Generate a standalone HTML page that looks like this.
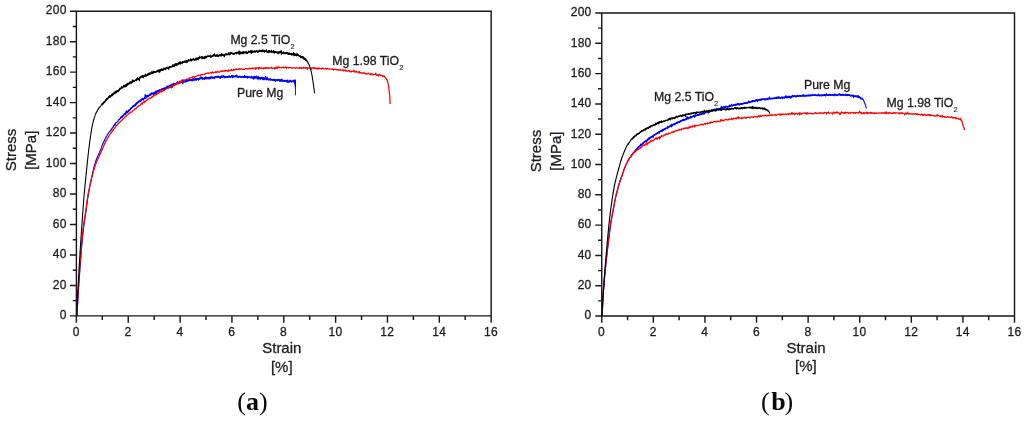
<!DOCTYPE html>
<html lang="en"><head><meta charset="utf-8"><title>Stress-strain curves</title>
<style>html,body{margin:0;padding:0;background:#fff;}body{width:1024px;height:422px;overflow:hidden;}svg{display:block;}text{font-family:"Liberation Sans",Arial,Helvetica,sans-serif;fill:#1c1c22;}text{stroke:#1c1c22;stroke-width:0.3px;stroke-linejoin:round;}.tk{font-size:12px;letter-spacing:0.3px;}.lb{font-size:12.25px;}.ax{font-size:15px;}.sub{font-size:7.4px;stroke-width:0.1px;}.cap{font-family:"Liberation Serif","Times New Roman",Times,serif;font-size:26px;fill:#0a0a0a;stroke:none;}</style></head><body>
<svg width="1024" height="422" viewBox="0 0 1024 422">
<rect width="1024" height="422" fill="#ffffff"/>
<g fill="none" stroke="#0000ff" stroke-width="1.15" stroke-linejoin="miter" stroke-miterlimit="3"><polyline points="77,315.8 77,315.2 77.1,314.7 77.1,314.1 77.1,313.6 77.1,313.0 77.2,312.5 77.2,311.9 77.2,311.4 77.2,310.8 77.3,310.3 77.3,309.7 77.3,309.2 77.4,308.6 77.4,308.1 77.4,307.5 77.4,307.0 77.5,306.4 77.5,305.9 77.5,305.3 77.6,304.8 77.6,304.2 77.6,303.7 77.7,303.1 77.7,302.6 77.7,302.0 77.8,301.5 77.8,300.9 77.8,300.4 77.9,299.8 77.9,299.3 77.9,298.7 78,298.2 78,297.6 78,297.1 78.1,296.5 78.1,296.0 78.1,295.4 78.2,294.9 78.2,294.3 78.2,293.8 78.3,293.2 78.3,292.7 78.3,292.1 78.4,291.6 78.4,291.0 78.4,290.5 78.5,289.9 78.5,289.4 78.5,288.8 78.6,288.3 78.6,287.7 78.6,287.2 78.7,286.6 78.7,286.1 78.8,285.5 78.8,285.0 78.8,284.4 78.9,283.9 78.9,283.3 78.9,282.8 79,282.2 79,281.7 79.1,281.1 79.1,280.6 79.1,280.0 79.2,279.5 79.2,279.0 79.3,278.4 79.3,277.9 79.3,277.3 79.4,276.8 79.4,276.2 79.4,275.7 79.5,275.1 79.5,274.6 79.6,274.0 79.6,273.5 79.6,272.9 79.7,272.4 79.7,271.8 79.8,271.3 79.8,270.7 79.8,270.2 79.9,269.6 79.9,269.1 80,268.5 80,268.0 80.1,267.4 80.1,266.9 80.1,266.3 80.2,265.8 80.2,265.2 80.3,264.7 80.3,264.1 80.3,263.6 80.4,263.0 80.4,262.5 80.5,261.9 80.5,261.4 80.6,260.8 80.6,260.3 80.6,259.7 80.7,259.2 80.7,258.6 80.8,258.1 80.8,257.5 80.9,257.0 80.9,256.4 80.9,255.9 81,255.3 81,254.8 81.1,254.2 81.1,253.7 81.2,253.1 81.2,252.6 81.2,252.0 81.3,251.5 81.3,250.9 81.4,250.4 81.4,249.8 81.5,249.3 81.5,248.7 81.5,248.2 81.6,247.6 81.6,247.1 81.7,246.5 81.7,246.0 81.8,245.4 81.8,244.9 81.9,244.3 81.9,243.8 82,243.3 82,242.7 82.1,242.2 82.1,241.6 82.2,241.1 82.2,240.5 82.3,240.0 82.3,239.4 82.4,238.9 82.4,238.3 82.5,237.8 82.5,237.2 82.6,236.7 82.6,236.1 82.7,235.6 82.8,235.0 82.8,234.5 82.9,233.9 82.9,233.4 83,232.8 83.1,232.3 83.1,231.7 83.2,231.2 83.2,230.6 83.3,230.1 83.4,229.5 83.4,229.0 83.5,228.5 83.6,227.9 83.6,227.4 83.7,226.8 83.8,226.3 83.8,225.7 83.9,225.2 84,224.6 84,224.1 84.1,223.5 84.2,223.0 84.3,222.4 84.4,221.9 84.4,221.4 84.5,220.8 84.6,220.3 84.7,219.7 84.8,219.2 84.9,218.6 84.9,218.1 85,217.5 85.1,217.0 85.2,216.5 85.3,215.9 85.4,215.4 85.5,214.8 85.5,214.3 85.6,213.7 85.7,213.2 85.8,212.6 85.9,212.1 85.9,211.6 86,211.0 86.1,210.5 86.2,209.9 86.2,209.4 86.3,208.8 86.4,208.3 86.5,207.7 86.5,207.2 86.6,206.6 86.7,206.1 86.7,205.5 86.8,205.0 86.9,204.5 87,203.9 87,203.4 87.1,202.8 87.2,202.3 87.3,201.7 87.3,201.2 87.4,200.6 87.5,200.1 87.6,199.5 87.6,199.0 87.7,198.5 87.8,197.9 87.9,197.4 88,196.8 88.1,196.3 88.1,195.7 88.2,195.2 88.3,194.6 88.4,194.1 88.5,193.6 88.6,193.0 88.7,192.5 88.8,191.9 88.9,191.4 89,190.8 89.1,190.3 89.2,189.8 89.3,189.2 89.4,188.7 89.5,188.1 89.6,187.6 89.7,187.1 89.8,186.5 89.9,186.0 90,185.4 90.2,184.9 90.3,184.4 90.4,183.8 90.5,183.3 90.6,182.7 90.7,182.2 90.8,181.7 90.9,181.1 91,180.6 91.2,180.0 91.3,179.5 91.4,179.0 91.5,178.4 91.6,177.9 91.7,177.3 91.8,176.8 91.9,176.3 92.1,175.7 92.2,175.2 92.3,174.7 92.4,174.1 92.5,173.6 92.6,173.0 92.8,172.5 92.9,172.0 93,171.4 93.1,170.9 93.2,170.3 93.3,169.8 93.5,169.3 93.6,168.7 93.7,168.2 93.8,167.7 94,167.1 94.1,166.6 94.2,166.0 94.4,165.5 94.6,165.0 94.7,164.5 94.9,164.0 95.1,163.4 95.2,163.0 95.4,162.3 95.6,161.7 95.8,161.4 96,160.8 96.2,160.3 96.3,159.8 96.5,159.1 96.7,158.6 96.9,158.4 97.1,157.8 97.3,157.1 97.5,156.9 97.8,156.1 98,155.7 98.2,155.2 98.4,154.5 98.6,154.1 98.9,153.9 99.1,153.1 99.3,152.8 99.6,152.3 99.8,151.5 100,151.1 100.2,150.8 100.4,150.1 100.6,149.6 100.9,149.2 101.1,148.7 101.3,148.0 101.5,147.7 101.6,146.9 101.8,146.4 102,146.1 102.2,145.4 102.4,144.9 102.6,144.5 102.8,143.8 103.1,143.5 103.3,142.8 103.5,142.4 103.7,142.4 104,141.5 104.2,140.7 104.4,140.6 104.6,140.1 104.9,139.7 105.1,139.0 105.4,138.4 105.6,138.2 105.9,137.6 106.1,136.7 106.4,136.7 106.7,136.0 106.9,135.8 107.2,135.0 107.5,134.8 107.8,134.2 108,133.8 108.3,133.2 108.7,132.7 109,132.3 109.3,132.0 109.6,131.5 109.9,131.4 110.3,130.7 110.6,130.3 111,130.3 111.3,129.2 111.6,128.9 112,128.2 112.3,127.9 112.6,127.9 113,127.1 113.3,127.0 113.6,125.8 114,125.3 114.3,125.4 114.7,124.5 115,125.2 115.4,124.4 115.7,123.2 116.1,122.5 116.4,122.5 116.8,122.4 117.1,121.9 117.5,121.8 117.8,121.5 118.2,120.5 118.5,119.8 118.9,119.9 119.3,119.3 119.6,119.3 120,118.5 120.4,118.4 120.7,117.8 121.1,117.2 121.5,116.8 121.9,116.8 122.3,117.1 122.7,116.1 123.1,115.4 123.5,115.3 123.9,114.7 124.3,113.8 124.8,114.1 125.2,114.3 125.6,113.1 126,112.4 126.4,111.2 126.9,112.9 127.3,112.2 127.7,111.9 128.1,112.0 128.5,111.4 128.9,110.6 129.3,109.9 129.7,109.7 130.2,109.2 130.6,109.2 131,108.2 131.4,108.3 131.8,107.8 132.2,107.3 132.6,107.4 133,105.9 133.4,106.0 133.8,105.7 134.3,105.9 134.7,105.0 135.1,105.4 135.5,104.3 135.9,104.3 136.3,103.5 136.8,103.9 137.2,102.6 137.6,102.9 138,102.1 138.5,101.5 138.9,101.6 139.3,101.8 139.8,100.5 140.2,100.0 140.6,100.2 141.1,100.4 141.5,99.2 142,99.1 142.4,99.2 142.9,98.6 143.4,99.8 143.8,98.8 144.3,97.9 144.8,97.6 145.2,94.3 145.7,97.0 146.2,96.3 146.7,95.9 147.2,95.6 147.6,97.0 148.1,95.7 148.6,95.8 149.1,95.6 149.6,94.4 150.1,95.1 150.6,94.2 151.1,93.1 151.6,93.9 152.1,93.2 152.6,93.3 153.1,93.5 153.6,94.3 154.1,92.6 154.6,92.5 155.1,92.6 155.6,92.3 156.1,91.9 156.6,91.1 157.1,91.0 157.6,91.2 158.1,90.5 158.6,90.5 159.2,90.0 159.7,91.1 160.2,89.4 160.7,91.1 161.2,89.5 161.7,89.0 162.2,88.7 162.7,89.6 163.2,89.5 163.7,88.2 164.2,88.7 164.7,88.2 165.2,87.9 165.8,88.0 166.3,88.1 166.8,86.4 167.3,86.1 167.8,87.2 168.3,86.8 168.8,87.1 169.4,85.6 169.9,85.8 170.4,86.9 170.9,85.2 171.4,85.9 171.9,85.0 172.4,85.0 172.9,84.2 173.4,85.4 173.9,83.5 174.4,83.6 174.9,83.6 175.4,84.5 175.9,83.9 176.5,83.9 177,83.3 177.5,83.3 178,83.3 178.6,83.7 179.1,82.8 179.6,81.7 180.1,83.0 180.7,82.3 181.2,81.5 181.7,81.8 182.3,83.2 182.8,83.6 183.4,81.4 183.9,80.4 184.4,81.5 185,80.8 185.5,81.8 186.1,81.1 186.6,80.0 187.1,80.6 187.7,80.1 188.2,79.6 188.8,80.2 189.3,79.3 189.8,80.4 190.4,79.7 190.9,79.6 191.5,80.4 192,80.9 192.6,79.5 193.1,80.7 193.6,78.5 194.2,79.8 194.7,79.1 195.3,79.3 195.8,78.7 196.3,78.8 196.9,78.8 197.4,79.1 198,79.6 198.5,80.0 199.1,78.3 199.6,78.5 200.2,77.6 200.7,77.1 201.3,79.2 201.8,77.6 202.4,79.1 202.9,78.3 203.5,78.7 204,78.4 204.6,79.2 205.1,78.0 205.7,77.1 206.2,78.7 206.8,78.1 207.3,77.6 207.9,77.9 208.4,77.6 209,78.9 209.5,77.6 210.1,77.1 210.6,78.0 211.2,76.8 211.7,78.0 212.3,78.0 212.8,77.2 213.3,77.3 213.9,77.2 214.4,78.4 215,77.7 215.5,76.7 216.1,76.6 216.6,77.2 217.2,77.2 217.7,76.8 218.3,77.3 218.8,77.0 219.4,77.7 219.9,77.3 220.5,76.6 221,77.1 221.6,76.5 222.1,77.4 222.7,77.1 223.2,76.7 223.8,76.9 224.3,76.6 224.9,78.2 225.4,76.6 226,77.1 226.5,77.0 227.1,76.6 227.6,76.7 228.2,76.5 228.7,76.8 229.3,76.8 229.8,77.1 230.4,77.1 230.9,76.5 231.5,76.4 232,75.5 232.6,76.2 233.1,75.7 233.7,77.0 234.2,76.7 234.8,76.6 235.4,75.8 235.9,75.9 236.5,75.3 237,76.7 237.6,77.1 238.1,77.1 238.7,76.7 239.2,76.2 239.8,76.8 240.3,76.8 240.9,77.2 241.4,77.2 242,76.7 242.5,76.8 243.1,77.2 243.6,77.1 244.2,76.8 244.7,75.7 245.3,76.6 245.8,77.4 246.4,77.1 246.9,77.5 247.5,76.8 248,77.1 248.6,77.5 249.1,77.5 249.7,77.4 250.2,77.8 250.8,77.9 251.3,78.0 251.9,76.4 252.4,77.1 253,77.2 253.5,77.2 254.1,76.6 254.6,78.2 255.2,77.0 255.7,77.7 256.3,76.4 256.8,77.5 257.4,77.7 257.9,77.3 258.4,78.3 259,79.3 259.5,77.5 260.1,77.6 260.6,79.1 261.2,78.5 261.7,78.1 262.3,77.6 262.8,80.1 263.4,78.6 263.9,79.4 264.5,78.1 265,78.5 265.6,76.2 266.1,78.7 266.7,79.5 267.2,77.6 267.7,78.7 268.3,79.1 268.8,79.1 269.4,79.7 269.9,79.2 270.5,78.8 271,79.3 271.6,79.5 272.1,80.1 272.7,80.3 273.2,80.4 273.8,80.0 274.3,79.5 274.9,80.7 275.4,79.8 276,79.6 276.5,80.2 277.1,80.3 277.6,80.6 278.1,79.7 278.7,79.8 279.2,80.6 279.8,79.8 280.3,80.9 280.9,79.8 281.4,80.1 282,79.5 282.5,81.7 283.1,80.4 283.6,80.6 284.2,80.4 284.7,80.7 285.3,81.3 285.8,81.0 286.4,81.1 286.9,81.8 287.5,80.5 288,81.9 288.5,82.2 289.1,80.6 289.6,81.6 290.2,80.7 290.7,80.3 291.3,81.0 291.8,81.8 292.4,81.9"/><polyline stroke-width="1.50" points="120.1,118.1 120.6,117.8 121.1,117.3 121.7,116.5 122.3,116.5 122.9,115.8 123.5,115.3 124.1,114.6 124.7,114.5 125.3,113.5 125.9,112.9 126.5,111.5 127.1,112.2 127.7,111.3 128.3,110.9 128.9,110.4 129.5,109.7 130.1,109.7 130.7,108.6 131.3,107.8 131.9,107.6 132.5,106.8 133.1,106.5 133.7,106.1 134.3,105.4 134.9,105.3 135.5,105.3 136.1,103.5 136.8,103.3 137.4,103.1 138,102.3 138.6,102.0 139.2,100.9 139.9,100.9 140.5,101.3 141.2,99.8 141.8,99.4 142.5,99.4 143.2,99.0 143.8,98.9 144.5,98.4 145.2,97.5 145.9,97.9 146.6,95.8 147.3,96.2 148,96.4 148.7,95.5 149.5,95.2 150.2,95.1 150.9,94.5 151.6,94.1 152.4,93.8 153.1,93.1 153.8,92.8 154.5,93.3 155.3,91.9 156,93.9 156.8,91.6 157.5,91.7 158.2,91.1 159,91.1 159.7,90.3 160.5,90.3 161.2,89.4 161.9,89.2 162.7,89.5 163.4,89.3 164.1,89.5 164.9,88.1 165.6,88.2 166.4,87.6 167.1,87.2 167.9,86.5 168.6,86.6 169.4,86.2 170.1,86.4 170.9,85.3 171.6,86.9 172.3,84.5 173.1,84.8 173.8,84.3 174.5,84.0 175.3,84.2 176,83.8 176.8,83.1 177.5,82.2 178.3,82.9 179.1,82.2 179.9,82.1 180.6,82.1 181.4,82.0 182.2,80.2 183,81.3 183.8,82.0 184.5,81.1 185.3,81.5 186.1,81.7 186.9,80.6 187.7,81.1 188.5,80.2 189.3,80.5 190.1,80.3 190.9,80.1 191.6,79.8 192.4,79.8 193.2,79.4 194,79.2 194.8,80.1 195.6,79.0 196.4,79.8 197.2,78.7 198,78.6 198.8,79.2 199.6,79.0 200.4,78.0 201.2,78.2 202,77.9 202.8,78.7 203.6,78.2 204.4,78.4 205.2,77.6 206,78.6 206.8,77.6 207.6,78.5 208.4,77.8 209.2,78.3 210,78.5 210.8,77.7 211.6,77.6 212.4,77.4 213.2,78.1 214,77.9 214.8,77.2 215.6,76.6 216.4,76.5 217.2,77.0 218,76.6 218.8,76.8 219.6,77.4 220.4,78.0 221.2,76.7 222,76.0 222.8,76.9 223.6,76.0 224.4,76.4 225.2,76.7 226,76.8 226.8,76.9 227.6,77.2 228.4,76.9 229.2,76.1 230,76.8 230.8,76.7 231.6,76.2 232.4,77.3 233.2,76.5 234,76.3 234.8,76.4 235.6,76.6 236.4,76.7 237.2,76.2 238,76.8 238.8,76.9 239.6,76.6 240.4,76.8 241.2,77.1 242.1,77.0 242.9,76.4 243.7,76.8 244.5,77.2 245.3,77.3 246.1,76.7 246.9,76.5 247.7,77.8 248.5,76.8 249.3,77.1 250.1,77.0 250.9,77.2 251.7,77.2 252.5,77.5 253.3,78.5 254.1,76.8 254.9,76.9 255.7,77.7 256.5,77.8 257.3,78.6 258.1,76.9 258.9,78.2 259.7,78.2 260.5,78.3 261.3,77.6 262.1,78.5 262.9,78.9 263.7,78.0 264.5,79.3 265.3,78.5 266.1,78.7 266.8,79.1 267.6,79.1 268.4,79.9 269.2,79.4 270,79.9 270.8,80.0 271.6,79.6 272.4,80.0 273.2,79.6 274,80.1 274.8,80.4 275.6,81.0 276.4,80.1 277.2,80.2 278,79.7 278.8,79.9 279.6,80.8 280.4,80.9 281.2,79.9 282,81.0 282.8,80.6 283.6,80.9 284.4,81.2 285.2,80.9 286,80.5 286.8,81.2 287.6,81.7 288.4,81.5 289.2,81.4 290,81.3 290.8,81.1 291.6,81.8 292.4,81.4"/></g>
<path d="M295.45 80V95.3" fill="none" stroke="#0000ff" stroke-width="0.95"/>
<path d="M291.8 81.3L293.0 79.7L295.95 79.5L295.95 87.8L295.0 87.8L294.3 83.8L293.2 81.9Z" fill="#0000ff"/>
<g fill="none" stroke="#ff0000" stroke-width="1.25" stroke-linejoin="miter" stroke-miterlimit="3"><polyline points="76.9,315.8 76.9,315.2 76.9,314.7 77,314.1 77,313.6 77,313.0 77,312.5 77.1,311.9 77.1,311.4 77.1,310.8 77.1,310.3 77.2,309.7 77.2,309.2 77.2,308.6 77.3,308.1 77.3,307.5 77.3,307.0 77.3,306.4 77.4,305.9 77.4,305.3 77.4,304.8 77.4,304.2 77.5,303.7 77.5,303.1 77.5,302.6 77.6,302.0 77.6,301.5 77.6,300.9 77.6,300.4 77.7,299.8 77.7,299.3 77.7,298.7 77.8,298.2 77.8,297.6 77.8,297.1 77.9,296.5 77.9,296.0 77.9,295.4 78,294.9 78,294.3 78,293.8 78.1,293.2 78.1,292.7 78.1,292.1 78.2,291.6 78.2,291.0 78.2,290.5 78.3,289.9 78.3,289.4 78.3,288.8 78.4,288.3 78.4,287.7 78.4,287.2 78.5,286.6 78.5,286.1 78.5,285.5 78.6,285.0 78.6,284.4 78.6,283.9 78.7,283.3 78.7,282.8 78.8,282.2 78.8,281.7 78.8,281.2 78.9,280.6 78.9,280.1 78.9,279.5 79,279.0 79,278.4 79,277.9 79.1,277.3 79.1,276.8 79.2,276.2 79.2,275.7 79.2,275.1 79.3,274.6 79.3,274.0 79.4,273.5 79.4,272.9 79.4,272.4 79.5,271.8 79.5,271.3 79.5,270.7 79.6,270.2 79.6,269.6 79.7,269.1 79.7,268.5 79.7,268.0 79.8,267.4 79.8,266.9 79.9,266.3 79.9,265.8 79.9,265.2 80,264.7 80,264.1 80.1,263.6 80.1,263.0 80.1,262.5 80.2,261.9 80.2,261.4 80.3,260.8 80.3,260.3 80.4,259.7 80.4,259.2 80.4,258.6 80.5,258.1 80.5,257.5 80.6,257.0 80.6,256.4 80.6,255.9 80.7,255.3 80.7,254.8 80.8,254.2 80.8,253.7 80.9,253.1 80.9,252.6 80.9,252.0 81,251.5 81,250.9 81.1,250.4 81.1,249.8 81.2,249.3 81.2,248.7 81.2,248.2 81.3,247.7 81.3,247.1 81.4,246.6 81.4,246.0 81.5,245.5 81.5,244.9 81.6,244.4 81.6,243.8 81.7,243.3 81.7,242.7 81.8,242.2 81.8,241.6 81.9,241.1 81.9,240.5 82,240.0 82,239.4 82.1,238.9 82.1,238.3 82.2,237.8 82.2,237.2 82.3,236.7 82.3,236.1 82.4,235.6 82.5,235.0 82.5,234.5 82.6,233.9 82.6,233.4 82.7,232.8 82.8,232.3 82.8,231.8 82.9,231.2 82.9,230.7 83,230.1 83.1,229.6 83.1,229.0 83.2,228.5 83.3,227.9 83.3,227.4 83.4,226.8 83.5,226.3 83.5,225.7 83.6,225.2 83.7,224.6 83.7,224.1 83.8,223.6 83.9,223.0 84,222.5 84,221.9 84.1,221.4 84.2,220.8 84.3,220.3 84.4,219.7 84.5,219.2 84.5,218.7 84.6,218.1 84.7,217.6 84.8,217.0 84.9,216.5 85,215.9 85.1,215.4 85.2,214.8 85.2,214.3 85.3,213.8 85.4,213.2 85.5,212.7 85.6,212.1 85.6,211.6 85.7,211.0 85.8,210.5 85.9,209.9 85.9,209.4 86,208.8 86.1,208.3 86.2,207.8 86.2,207.2 86.3,206.7 86.4,206.1 86.4,205.6 86.5,205.0 86.6,204.5 86.7,203.9 86.7,203.4 86.8,202.8 86.9,202.3 86.9,201.7 87,201.2 87.1,200.7 87.2,200.1 87.3,199.6 87.3,199.0 87.4,198.5 87.5,197.9 87.6,197.4 87.7,196.8 87.8,196.3 87.9,195.8 87.9,195.2 88,194.7 88.1,194.1 88.2,193.6 88.3,193.0 88.4,192.5 88.5,192.0 88.6,191.4 88.7,190.9 88.8,190.3 88.9,189.8 89,189.3 89.2,188.7 89.3,188.2 89.4,187.6 89.5,187.1 89.6,186.6 89.8,186.0 89.9,185.5 90,185.0 90.1,184.4 90.2,183.9 90.4,183.3 90.5,182.8 90.6,182.3 90.7,181.7 90.9,181.2 91,180.7 91.1,180.1 91.2,179.6 91.4,179.1 91.5,178.5 91.6,178.0 91.8,177.4 91.9,176.9 92,176.4 92.2,175.8 92.3,175.3 92.5,174.8 92.6,174.3 92.7,173.7 92.9,173.2 93,172.7 93.2,172.1 93.3,171.6 93.5,171.1 93.6,170.5 93.8,170.0 94,169.5 94.1,168.9 94.3,168.5 94.5,167.9 94.6,167.4 94.8,166.9 95,166.4 95.1,165.8 95.3,165.3 95.5,164.7 95.7,164.3 95.9,163.7 96.1,163.2 96.3,162.7 96.5,162.2 96.7,161.6 96.9,161.3 97.1,160.8 97.3,160.2 97.6,159.7 97.8,159.2 98,158.8 98.2,158.1 98.5,157.6 98.7,157.1 98.9,156.6 99.1,156.1 99.4,155.5 99.6,155.2 99.8,154.6 100.1,154.3 100.3,153.7 100.5,153.1 100.8,152.6 101,152.1 101.2,151.8 101.5,151.1 101.7,150.5 101.9,150.2 102.2,149.7 102.4,149.1 102.6,148.8 102.8,148.2 103,147.7 103.2,147.0 103.5,146.6 103.7,146.1 103.9,145.4 104.1,145.1 104.3,144.5 104.5,144.1 104.8,143.5 105,143.3 105.3,142.6 105.5,142.2 105.7,141.7 106,141.0 106.3,140.4 106.5,140.1 106.8,139.8 107,139.2 107.3,138.8 107.6,138.3 107.9,137.6 108.1,137.3 108.4,137.0 108.7,136.3 109,135.6 109.3,135.4 109.6,134.9 109.9,134.5 110.2,133.9 110.6,133.6 110.9,132.8 111.2,132.8 111.5,132.5 111.8,132.0 112.2,131.1 112.5,131.0 112.8,130.0 113.2,130.1 113.5,129.6 113.8,129.0 114.2,128.8 114.5,128.3 114.8,128.0 115.2,127.4 115.5,127.0 115.8,126.2 116.2,125.9 116.5,125.6 116.9,125.3 117.2,124.8 117.6,124.7 117.9,123.8 118.3,123.5 118.7,123.2 119.1,122.7 119.5,122.5 119.8,121.9 120.2,121.9 120.6,121.2 121,121.1 121.4,120.5 121.8,120.4 122.2,119.4 122.6,119.4 123,118.9 123.4,118.6 123.9,118.5 124.3,117.6 124.7,117.2 125.1,116.9 125.5,116.5 125.9,115.9 126.3,116.0 126.7,115.3 127.1,115.0 127.6,114.8 128,114.7 128.4,114.1 128.8,113.8 129.3,113.5 129.7,113.1 130.1,112.2 130.6,112.4 131,112.2 131.4,112.1 131.9,112.0 132.3,111.3 132.7,110.8 133.2,110.2 133.6,110.1 134,110.0 134.5,109.7 134.9,108.9 135.3,108.8 135.8,108.6 136.2,108.5 136.6,107.8 137,107.2 137.5,106.9 137.9,106.6 138.3,105.9 138.8,106.2 139.2,105.9 139.6,105.5 140.1,105.3 140.5,104.5 140.9,104.4 141.4,103.2 141.8,103.7 142.3,104.0 142.7,103.0 143.2,102.2 143.6,102.3 144,101.8 144.5,101.4 144.9,102.3 145.4,101.3 145.8,101.2 146.3,100.3 146.8,100.4 147.2,100.1 147.7,99.2 148.1,99.2 148.6,98.9 149.1,98.7 149.5,97.9 150,98.0 150.5,98.1 150.9,97.9 151.4,97.7 151.9,96.8 152.4,97.2 152.8,96.6 153.3,95.7 153.8,96.0 154.3,95.3 154.7,94.6 155.2,94.9 155.7,95.0 156.2,94.5 156.6,94.0 157.1,94.1 157.6,93.6 158.1,93.2 158.5,93.4 159,92.6 159.5,92.3 160,92.1 160.5,90.5 161,91.6 161.5,92.0 161.9,90.9 162.4,91.0 162.9,90.4 163.4,90.3 163.9,90.7 164.4,90.3 164.9,89.6 165.4,89.5 165.9,89.0 166.4,88.8 166.9,88.5 167.4,88.3 167.9,88.4 168.4,88.2 168.9,87.9 169.4,87.5 169.9,86.9 170.3,87.1 170.8,86.6 171.3,86.6 171.8,86.5 172.3,87.9 172.8,85.7 173.3,85.1 173.8,85.6 174.3,84.6 174.8,85.3 175.3,84.7 175.8,84.7 176.3,83.8 176.7,84.4 177.2,83.5 177.7,83.0 178.2,83.5 178.7,82.9 179.2,82.4 179.7,82.6 180.2,81.5 180.7,82.4 181.2,81.4 181.7,81.5 182.2,81.1 182.7,81.1 183.2,81.0 183.7,80.3 184.2,80.6 184.7,80.1 185.2,79.7 185.8,79.7 186.3,79.3 186.8,79.1 187.3,79.5 187.8,78.9 188.3,79.1 188.9,78.7 189.4,78.1 189.9,77.7 190.4,77.8 190.9,77.9 191.4,77.7 192,77.2 192.5,77.6 193,76.6 193.5,76.6 194.1,76.8 194.6,77.3 195.1,76.6 195.6,76.3 196.1,76.3 196.7,76.1 197.2,76.0 197.7,75.5 198.3,75.2 198.8,75.3 199.3,75.3 199.9,75.5 200.4,75.5 200.9,74.6 201.5,74.5 202,74.6 202.5,74.4 203.1,74.5 203.6,74.4 204.2,74.2 204.7,74.5 205.3,73.9 205.8,73.5 206.3,73.3 206.9,73.3 207.4,73.2 208,72.9 208.5,73.5 209,73.3 209.6,73.0 210.1,72.8 210.7,72.5 211.2,72.6 211.8,73.3 212.3,72.0 212.8,72.6 213.4,72.7 213.9,72.5 214.5,72.2 215,72.5 215.6,71.8 216.1,72.3 216.7,72.4 217.2,71.6 217.7,71.6 218.3,71.8 218.8,72.0 219.4,72.0 219.9,71.7 220.5,71.2 221,71.0 221.6,71.3 222.1,71.3 222.6,70.8 223.2,71.0 223.7,71.0 224.3,71.2 224.8,70.5 225.4,70.9 225.9,70.3 226.5,70.5 227,70.5 227.6,71.0 228.1,71.4 228.7,70.1 229.2,70.5 229.8,70.5 230.3,70.2 230.8,70.3 231.4,69.6 231.9,70.4 232.5,70.3 233,70.2 233.6,69.4 234.1,70.1 234.7,69.6 235.2,69.5 235.8,69.6 236.3,68.9 236.9,69.5 237.4,69.6 238,69.4 238.5,69.3 239.1,68.9 239.6,69.4 240.2,69.2 240.7,69.1 241.3,68.6 241.8,69.3 242.4,69.4 242.9,69.1 243.5,69.2 244,69.3 244.5,69.4 245.1,68.9 245.6,68.7 246.2,68.6 246.7,68.7 247.3,68.9 247.8,69.0 248.4,68.5 248.9,68.6 249.5,68.3 250,68.9 250.6,68.4 251.1,68.6 251.7,68.2 252.2,68.3 252.8,68.1 253.3,68.8 253.9,68.4 254.4,68.2 255,67.9 255.5,69.0 256.1,68.3 256.6,68.6 257.2,67.7 257.7,67.8 258.3,68.0 258.8,68.9 259.4,67.6 259.9,68.0 260.5,68.3 261,67.7 261.6,68.1 262.1,68.3 262.7,68.3 263.2,67.9 263.8,68.7 264.4,68.1 264.9,67.7 265.5,68.3 266,67.6 266.6,68.2 267.1,67.6 267.7,68.2 268.2,67.8 268.8,68.3 269.3,68.1 269.9,68.0 270.4,67.9 271,68.2 271.5,67.3 272.1,68.0 272.6,68.0 273.2,68.0 273.7,68.1 274.3,68.9 274.8,67.8 275.4,68.0 275.9,67.8 276.5,68.2 277,67.1 277.6,68.2 278.1,67.5 278.7,66.7 279.2,67.3 279.8,67.6 280.3,67.7 280.9,67.6 281.4,67.9 282,67.6 282.5,67.6 283.1,67.0 283.6,67.7 284.2,67.9 284.7,67.5 285.3,67.0 285.8,67.2 286.4,68.1 286.9,67.4 287.5,67.4 288,67.4 288.6,67.9 289.1,67.5 289.7,67.4 290.2,67.3 290.8,67.7 291.3,68.0 291.9,67.7 292.4,68.0 293,67.8 293.5,67.9 294.1,67.9 294.6,67.9 295.2,68.2 295.7,68.0 296.3,67.7 296.8,67.9 297.4,67.9 297.9,68.1 298.5,68.0 299,68.1 299.6,67.5 300.1,68.1 300.7,68.3 301.2,67.6 301.8,68.4 302.3,68.1 302.9,67.9 303.4,67.4 304,68.3 304.5,67.7 305.1,67.9 305.6,68.2 306.2,67.7 306.8,67.7 307.3,69.1 307.9,68.0 308.4,68.2 309,68.2 309.5,68.2 310.1,68.0 310.6,68.1 311.2,67.9 311.7,69.0 312.3,68.2 312.8,67.6 313.4,67.9 313.9,68.7 314.5,67.8 315,68.1 315.6,68.4 316.1,68.0 316.7,68.7 317.2,68.9 317.8,68.1 318.3,68.8 318.9,68.2 319.4,68.2 320,68.6 320.5,68.6 321.1,68.4 321.6,68.8 322.2,68.2 322.7,68.4 323.3,68.3 323.8,68.9 324.4,68.9 324.9,68.9 325.5,68.4 326,68.8 326.6,69.0 327.1,68.4 327.7,68.6 328.2,69.1 328.8,69.1 329.3,69.0 329.9,69.2 330.4,69.1 331,69.1 331.5,69.1 332.1,68.9 332.6,69.1 333.2,69.1 333.7,70.0 334.3,69.4 334.8,69.4 335.3,69.4 335.9,69.5 336.4,69.5 337,69.8 337.5,69.7 338.1,70.0 338.6,69.6 339.2,70.0 339.7,70.2 340.3,69.7 340.8,70.1 341.4,70.2 341.9,70.1 342.5,70.2 343,69.8 343.5,70.8 344.1,70.2 344.6,70.2 345.2,70.8 345.7,70.2 346.3,71.1 346.8,71.0 347.4,71.1 347.9,70.9 348.5,70.7 349,70.5 349.6,71.6 350.1,71.1 350.7,71.2 351.2,71.9 351.7,71.3 352.3,71.4 352.8,71.5 353.4,71.6 353.9,70.5 354.5,71.6 355,72.2 355.6,72.2 356.1,71.1 356.7,71.5 357.2,72.2 357.8,72.2 358.3,72.0 358.9,72.7 359.4,71.9 359.9,72.9 360.5,72.6 361,72.8 361.6,72.8 362.1,73.1 362.7,72.9 363.2,72.9 363.8,73.3 364.3,73.2 364.8,72.9 365.4,73.8 365.9,73.8 366.5,74.0 367,73.6 367.6,73.8 368.1,73.7 368.7,73.2 369.2,74.0 369.7,74.1 370.3,73.9 370.8,74.7 371.4,73.7 371.9,74.0 372.5,74.1 373,74.8 373.6,74.4 374.1,74.4 374.7,74.3 375.2,74.4 375.8,73.5 376.3,75.0 376.9,74.9 377.4,75.1 378,74.7 378.5,75.7 379.1,74.7 379.6,74.5 380.1,75.1 380.7,75.3 381.2,75.7 381.8,75.3 382.3,75.9 382.8,76.5 383.3,75.9 383.8,76.2 384.3,76.2 384.7,77.0 385.2,77.5 385.6,77.9 386,78.3 386.3,78.8 386.6,79.0 386.8,79.6 387.1,79.9 387.3,80.4 387.5,81.0 387.6,81.5 387.8,82.1 387.9,82.6 388,83.2 388.1,83.7 388.2,84.3 388.3,84.8 388.4,85.3 388.5,85.9 388.6,86.4 388.7,87.0 388.7,87.5 388.8,88.1 388.9,88.6 388.9,89.2 389,89.7 389.1,90.3 389.1,90.8 389.2,91.4 389.3,91.9 389.3,92.5 389.4,93.0 389.5,93.6 389.5,94.1 389.6,94.7 389.7,95.2 389.7,95.8 389.8,96.3 389.8,96.8 389.8,97.4 389.9,97.9 389.9,98.5 389.9,99.0 390,99.6 390,100.1 390,100.7 390,101.2 390.1,101.8 390.1,102.3 390.1,102.9 390.1,103.4 390.1,104.0"/></g>
<g fill="none" stroke="#000000" stroke-width="1.10" stroke-linejoin="miter" stroke-miterlimit="3"><polyline points="76.7,315.8 76.7,315.2 76.7,314.7 76.8,314.1 76.8,313.6 76.8,313.0 76.8,312.5 76.9,311.9 76.9,311.4 76.9,310.8 76.9,310.3 77,309.7 77,309.2 77,308.6 77,308.1 77.1,307.5 77.1,307.0 77.1,306.4 77.1,305.9 77.2,305.3 77.2,304.8 77.2,304.2 77.2,303.7 77.3,303.1 77.3,302.6 77.3,302.0 77.3,301.5 77.4,300.9 77.4,300.4 77.4,299.8 77.5,299.3 77.5,298.7 77.5,298.2 77.5,297.6 77.6,297.1 77.6,296.5 77.6,296.0 77.6,295.4 77.7,294.9 77.7,294.3 77.7,293.8 77.8,293.2 77.8,292.7 77.8,292.1 77.8,291.6 77.9,291.0 77.9,290.5 77.9,289.9 78,289.4 78,288.8 78,288.3 78,287.7 78.1,287.2 78.1,286.6 78.1,286.1 78.2,285.5 78.2,285.0 78.2,284.4 78.2,283.9 78.3,283.3 78.3,282.8 78.3,282.2 78.4,281.7 78.4,281.1 78.4,280.6 78.5,280.0 78.5,279.5 78.5,278.9 78.5,278.4 78.6,277.8 78.6,277.3 78.6,276.7 78.7,276.2 78.7,275.6 78.7,275.1 78.8,274.5 78.8,274.0 78.8,273.4 78.9,272.9 78.9,272.3 78.9,271.8 78.9,271.2 79,270.7 79,270.1 79,269.6 79.1,269.0 79.1,268.5 79.1,267.9 79.2,267.4 79.2,266.8 79.2,266.3 79.3,265.7 79.3,265.2 79.3,264.6 79.4,264.1 79.4,263.5 79.4,263.0 79.5,262.4 79.5,261.9 79.5,261.3 79.6,260.8 79.6,260.2 79.6,259.7 79.6,259.1 79.7,258.6 79.7,258.0 79.7,257.5 79.8,256.9 79.8,256.4 79.8,255.8 79.9,255.3 79.9,254.7 79.9,254.2 80,253.6 80,253.1 80,252.5 80.1,252.0 80.1,251.4 80.1,250.9 80.2,250.3 80.2,249.8 80.2,249.2 80.3,248.7 80.3,248.2 80.3,247.6 80.4,247.1 80.4,246.5 80.5,246.0 80.5,245.4 80.5,244.9 80.6,244.3 80.6,243.8 80.6,243.2 80.7,242.7 80.7,242.1 80.7,241.6 80.8,241.0 80.8,240.5 80.9,239.9 80.9,239.4 80.9,238.8 81,238.3 81,237.7 81,237.2 81.1,236.6 81.1,236.1 81.2,235.5 81.2,235.0 81.2,234.4 81.3,233.9 81.3,233.3 81.4,232.8 81.4,232.2 81.4,231.7 81.5,231.1 81.5,230.6 81.6,230.0 81.6,229.5 81.6,228.9 81.7,228.4 81.7,227.8 81.7,227.3 81.8,226.7 81.8,226.2 81.9,225.6 81.9,225.1 81.9,224.5 82,224.0 82,223.4 82.1,222.9 82.1,222.3 82.1,221.8 82.2,221.2 82.2,220.7 82.2,220.1 82.3,219.6 82.3,219.0 82.4,218.5 82.4,217.9 82.4,217.4 82.5,216.8 82.5,216.3 82.5,215.7 82.6,215.2 82.6,214.6 82.7,214.1 82.7,213.5 82.7,213.0 82.8,212.4 82.8,211.9 82.9,211.3 82.9,210.8 82.9,210.2 83,209.7 83,209.1 83,208.6 83.1,208.0 83.1,207.5 83.2,206.9 83.2,206.4 83.2,205.8 83.3,205.3 83.3,204.7 83.4,204.2 83.4,203.6 83.5,203.1 83.5,202.5 83.5,202.0 83.6,201.4 83.6,200.9 83.7,200.3 83.7,199.8 83.8,199.3 83.8,198.7 83.9,198.2 83.9,197.6 83.9,197.1 84,196.5 84,196.0 84.1,195.4 84.1,194.9 84.2,194.3 84.2,193.8 84.3,193.2 84.3,192.7 84.4,192.1 84.5,191.6 84.5,191.0 84.6,190.5 84.6,189.9 84.7,189.4 84.7,188.8 84.8,188.3 84.8,187.7 84.9,187.2 84.9,186.6 85,186.1 85,185.5 85.1,185.0 85.1,184.4 85.2,183.9 85.2,183.3 85.3,182.8 85.3,182.3 85.4,181.7 85.5,181.2 85.5,180.6 85.6,180.1 85.6,179.5 85.7,179.0 85.7,178.4 85.8,177.9 85.8,177.3 85.9,176.8 85.9,176.2 86,175.7 86.1,175.1 86.1,174.6 86.2,174.0 86.2,173.5 86.3,172.9 86.3,172.4 86.4,171.8 86.4,171.3 86.5,170.7 86.6,170.2 86.6,169.6 86.7,169.1 86.7,168.5 86.8,168.0 86.8,167.5 86.9,166.9 86.9,166.4 87,165.8 87.1,165.3 87.1,164.7 87.2,164.2 87.2,163.6 87.3,163.1 87.3,162.5 87.4,162.0 87.4,161.4 87.5,160.9 87.6,160.3 87.6,159.8 87.7,159.2 87.7,158.7 87.8,158.1 87.9,157.6 87.9,157.0 88,156.5 88,155.9 88.1,155.4 88.1,154.9 88.2,154.3 88.3,153.8 88.3,153.2 88.4,152.7 88.5,152.1 88.5,151.6 88.6,151.0 88.6,150.5 88.7,149.9 88.8,149.4 88.8,148.8 88.9,148.3 89,147.7 89,147.2 89.1,146.6 89.2,146.1 89.3,145.6 89.3,145.0 89.4,144.5 89.5,143.9 89.5,143.4 89.6,142.8 89.7,142.3 89.8,141.7 89.8,141.2 89.9,140.6 90,140.1 90.1,139.6 90.1,139.0 90.2,138.5 90.3,137.9 90.4,137.4 90.5,136.8 90.5,136.3 90.6,135.7 90.7,135.2 90.8,134.6 90.9,134.1 90.9,133.6 91,133.0 91.1,132.5 91.2,131.9 91.3,131.4 91.4,130.8 91.5,130.3 91.5,129.7 91.6,129.2 91.7,128.7 91.8,128.1 91.9,127.6 92,127.0 92.1,126.5 92.2,126.0 92.3,125.4 92.4,124.9 92.6,124.3 92.7,123.8 92.8,123.3 92.9,122.7 93.1,122.2 93.2,121.6 93.3,121.1 93.5,120.6 93.6,120.0 93.8,119.5 93.9,119.0 94.1,118.4 94.2,118.0 94.4,117.3 94.6,116.9 94.7,116.3 94.9,115.9 95.1,115.4 95.3,114.5 95.5,114.3 95.7,113.8 95.9,113.3 96.2,112.7 96.4,112.4 96.7,111.7 96.9,111.7 97.2,111.0 97.5,110.9 97.8,109.7 98.1,109.0 98.4,109.2 98.7,108.8 99.1,108.1 99.4,107.2 99.7,107.1 100.1,107.0 100.4,106.3 100.8,105.9 101.1,105.5 101.5,104.8 101.9,104.0 102.2,103.8 102.6,104.5 103,103.3 103.3,103.4 103.7,102.3 104.1,102.5 104.4,102.0 104.8,102.0 105.2,101.0 105.6,100.0 106,99.8 106.4,99.9 106.8,99.6 107.2,99.6 107.6,98.6 108,98.4 108.4,97.1 108.8,97.3 109.2,97.4 109.6,97.3 110,96.4 110.5,97.0 110.9,96.6 111.3,95.5 111.7,94.1 112.2,94.0 112.6,94.1 113,94.6 113.5,93.9 113.9,92.5 114.4,93.0 114.8,93.5 115.2,92.3 115.7,91.8 116.1,92.8 116.6,91.5 117,90.9 117.5,91.0 117.9,90.5 118.4,90.0 118.8,90.4 119.2,90.0 119.7,89.6 120.1,88.8 120.6,88.4 121,88.2 121.4,88.1 121.9,88.0 122.3,87.6 122.8,87.8 123.2,86.8 123.7,85.4 124.2,85.4 124.6,86.4 125.1,85.3 125.6,85.4 126.1,86.8 126.6,85.2 127.1,84.2 127.6,85.0 128,83.6 128.5,84.3 129,83.8 129.5,82.7 130,83.5 130.5,82.1 131,81.9 131.5,82.1 132,81.6 132.5,79.7 133,81.2 133.4,80.6 133.9,81.5 134.4,81.0 134.9,80.4 135.4,80.1 135.9,80.2 136.4,80.7 136.9,79.9 137.4,78.9 137.9,79.4 138.4,78.6 138.9,78.3 139.4,81.2 139.9,77.7 140.4,77.5 140.9,76.4 141.4,76.5 141.9,77.1 142.4,76.4 142.9,76.9 143.4,75.8 143.9,75.8 144.4,76.4 144.9,76.6 145.4,75.9 145.9,76.0 146.5,76.1 147,75.5 147.5,74.3 148,74.5 148.5,74.7 149,73.9 149.5,74.2 150,72.8 150.5,73.0 151,73.6 151.5,71.8 152.1,72.2 152.6,72.6 153.1,71.5 153.6,72.3 154.1,71.7 154.7,71.8 155.2,71.7 155.7,71.8 156.3,71.2 156.8,71.5 157.3,70.9 157.9,71.4 158.4,71.9 158.9,70.9 159.4,70.7 160,69.8 160.5,70.7 161,69.7 161.5,69.5 162,70.0 162.5,69.6 163,69.9 163.6,69.9 164.1,68.6 164.6,68.8 165.1,69.5 165.6,68.9 166.2,68.6 166.7,68.8 167.2,67.6 167.8,68.1 168.3,68.4 168.8,69.2 169.4,66.9 169.9,67.1 170.4,67.2 170.9,66.7 171.4,66.5 172,66.8 172.5,66.1 173,64.5 173.5,66.0 174,65.3 174.5,64.9 175,64.2 175.5,65.4 176,63.4 176.5,65.0 177,64.1 177.5,64.7 178,64.5 178.5,63.0 179.1,63.3 179.6,62.4 180.1,63.6 180.6,62.0 181.1,62.6 181.6,63.1 182.2,62.2 182.7,63.0 183.2,61.5 183.7,62.1 184.3,62.2 184.8,61.5 185.3,62.2 185.9,61.6 186.4,60.3 186.9,63.2 187.5,61.2 188,60.8 188.5,59.8 189.1,60.5 189.6,60.1 190.2,60.6 190.7,60.3 191.2,61.0 191.8,59.9 192.3,60.0 192.8,59.8 193.4,59.4 193.9,59.2 194.4,59.8 195,59.5 195.5,58.6 196,58.2 196.6,58.6 197.1,59.2 197.7,58.4 198.2,59.3 198.7,57.8 199.3,58.1 199.8,56.6 200.3,57.5 200.9,57.6 201.4,57.9 202,58.5 202.5,57.5 203.1,58.2 203.6,57.7 204.2,57.8 204.7,56.9 205.2,57.8 205.8,56.4 206.3,57.2 206.9,56.3 207.4,56.4 208,55.8 208.5,56.2 209,56.6 209.6,56.3 210.1,55.5 210.7,57.0 211.2,56.3 211.8,56.6 212.3,56.4 212.9,55.6 213.4,54.8 214,55.3 214.5,54.0 215.1,55.2 215.6,56.1 216.2,55.3 216.7,55.8 217.3,54.5 217.8,56.8 218.3,55.4 218.9,55.8 219.4,55.3 220,55.6 220.5,55.0 221.1,55.4 221.6,54.1 222.2,54.3 222.7,55.2 223.3,54.7 223.8,54.5 224.3,57.1 224.9,54.7 225.4,54.0 226,54.6 226.5,53.7 227.1,53.9 227.6,54.6 228.2,54.5 228.7,53.3 229.2,54.3 229.8,53.2 230.3,54.1 230.9,52.6 231.4,52.9 232,53.2 232.5,53.4 233.1,54.2 233.6,53.8 234.2,54.2 234.7,53.9 235.3,53.0 235.8,53.0 236.4,53.7 236.9,53.1 237.5,52.9 238,52.2 238.6,52.8 239.1,51.3 239.7,52.6 240.2,52.2 240.8,53.1 241.3,52.4 241.9,52.5 242.4,53.3 243,52.0 243.5,54.0 244.1,51.4 244.6,52.5 245.2,52.6 245.7,52.8 246.3,51.8 246.8,53.0 247.4,52.4 247.9,52.2 248.5,52.3 249,52.4 249.6,52.3 250.1,51.5 250.7,51.3 251.2,53.3 251.7,53.0 252.3,51.1 252.8,52.0 253.4,51.9 253.9,51.2 254.5,51.7 255,51.0 255.6,51.4 256.1,51.2 256.7,51.4 257.2,51.2 257.8,51.2 258.3,51.7 258.9,51.7 259.4,50.2 260,50.6 260.5,50.4 261.1,51.5 261.6,50.8 262.1,51.7 262.7,50.7 263.2,51.1 263.8,50.4 264.3,52.0 264.9,51.1 265.4,50.5 266,51.1 266.5,50.2 267.1,51.4 267.6,51.6 268.2,51.7 268.7,52.4 269.3,51.4 269.8,52.1 270.4,51.9 270.9,51.6 271.5,50.6 272,52.3 272.6,51.6 273.1,51.9 273.7,51.2 274.2,52.1 274.8,52.1 275.3,52.1 275.9,52.0 276.4,52.7 277,52.7 277.5,52.6 278.1,54.1 278.6,52.0 279.1,52.2 279.7,51.9 280.2,51.5 280.8,52.2 281.3,51.1 281.9,52.0 282.4,52.8 283,53.4 283.5,52.0 284.1,52.6 284.6,52.9 285.2,52.7 285.7,53.4 286.3,53.2 286.8,53.4 287.4,52.9 287.9,54.2 288.5,53.4 289,54.2 289.5,54.2 290.1,54.0 290.6,53.4 291.2,53.3 291.7,53.5 292.3,54.0 292.8,54.0 293.4,55.0 293.9,53.6 294.5,53.8 295,55.4 295.5,54.9 296.1,53.7 296.6,55.1 297.1,55.1 297.6,54.0 298.2,55.1 298.7,55.5 299.2,56.2 299.7,56.5 300.2,56.3 300.7,57.0 301.2,56.6 301.7,56.5 302.2,56.7 302.7,57.8 303.1,56.7 303.6,58.4 304.1,57.8 304.5,58.5 304.9,59.2 305.3,59.9 305.7,59.1 306.1,59.8 306.5,60.6 306.9,60.8 307.2,61.7 307.5,61.4 307.8,62.4 308.1,62.9 308.4,63.3 308.6,64.0 308.9,64.1 309.1,64.9 309.3,65.2 309.5,65.9 309.6,66.3 309.8,66.9 310,67.4 310.1,67.9 310.3,68.5 310.4,69.0 310.6,69.5 310.7,70.0 310.9,70.6 311,71.1 311.2,71.7 311.3,72.2 311.4,72.7 311.6,73.3 311.7,73.8 311.8,74.3 311.9,74.9 312,75.4 312.1,76.0 312.2,76.5 312.3,77.0 312.4,77.6 312.4,78.1 312.5,78.7 312.6,79.2 312.7,79.8 312.8,80.3 312.9,80.9 313,81.4 313,81.9 313.1,82.5 313.2,83.0 313.3,83.6 313.4,84.1 313.4,84.7 313.5,85.2 313.6,85.8 313.7,86.3 313.7,86.8 313.8,87.4 313.9,87.9 314,88.5 314,89.0 314.1,89.6 314.2,90.1 314.3,90.7 314.3,91.2 314.4,91.8 314.5,92.3 314.5,92.9 314.6,93.4"/><polyline stroke-width="1.50" points="101.8,104.8 102.3,104.1 102.9,103.7 103.4,103.2 103.9,102.4 104.5,101.8 105,101.4 105.6,100.7 106.1,100.3 106.7,98.7 107.3,98.6 107.9,98.4 108.5,97.5 109.1,97.0 109.7,96.0 110.3,96.5 110.9,95.7 111.6,95.0 112.2,95.4 112.8,94.1 113.4,94.1 114.1,93.4 114.7,93.1 115.4,91.6 116,91.8 116.7,91.2 117.3,91.2 118,91.5 118.6,90.5 119.3,90.0 119.9,88.5 120.5,88.6 121.2,88.0 121.8,87.0 122.5,87.2 123.1,87.1 123.8,86.4 124.5,86.2 125.2,86.5 125.9,84.9 126.6,85.5 127.3,83.9 128,83.8 128.8,83.5 129.5,83.0 130.2,82.1 130.9,82.9 131.6,82.9 132.3,81.9 133,81.4 133.8,80.8 134.5,80.9 135.2,80.6 135.9,79.9 136.6,79.3 137.4,78.1 138.1,78.8 138.8,79.1 139.5,78.2 140.2,77.1 141,77.1 141.7,76.4 142.4,75.9 143.2,77.2 143.9,76.3 144.6,76.1 145.4,74.6 146.1,75.5 146.9,75.3 147.6,75.3 148.4,73.9 149.1,73.5 149.8,74.3 150.6,73.7 151.3,73.0 152.1,73.2 152.8,73.3 153.6,72.4 154.3,72.3 155.1,72.3 155.9,72.0 156.7,71.4 157.4,71.3 158.2,70.2 159,70.2 159.7,71.7 160.5,70.0 161.3,69.2 162,70.3 162.7,70.2 163.5,68.5 164.2,68.8 165,68.5 165.8,68.2 166.5,67.7 167.3,67.5 168.1,67.5 168.9,67.7 169.6,67.2 170.4,67.1 171.2,66.8 171.9,66.4 172.6,65.9 173.4,65.5 174.1,66.1 174.8,65.2 175.6,64.2 176.3,64.2 177.1,64.7 177.8,63.6 178.5,63.7 179.3,62.7 180,63.6 180.8,63.4 181.6,62.6 182.3,62.3 183.1,62.2 183.9,61.8 184.6,61.3 185.4,61.8 186.2,60.9 187,61.2 187.7,61.4 188.5,60.1 189.3,60.4 190.1,60.3 190.9,59.1 191.6,59.7 192.4,59.7 193.2,58.9 194,59.8 194.8,59.9 195.5,59.6 196.3,59.7 197.1,58.2 197.9,58.6 198.7,58.3 199.4,57.5 200.2,57.5 201,57.6 201.8,56.8 202.6,57.5 203.4,57.4 204.2,58.5 205,57.2 205.8,57.6 206.6,57.1 207.4,56.4 208.1,56.2 208.9,56.2 209.7,56.2 210.5,56.7 211.3,56.7 212.1,55.9 212.9,55.8 213.7,55.5 214.5,55.7 215.3,55.8 216.1,55.4 216.9,55.6 217.7,55.2 218.5,56.0 219.3,55.4 220.1,54.9 220.9,55.7 221.7,54.2 222.5,54.8 223.3,55.4 224.1,55.1 224.9,54.8 225.6,54.3 226.4,54.7 227.2,54.4 228,54.5 228.8,53.4 229.6,54.3 230.4,53.3 231.2,53.0 232,53.5 232.8,53.4 233.6,53.9 234.4,53.2 235.2,53.3 236,52.7 236.8,52.5 237.6,52.8 238.4,53.2 239.2,54.0 240,52.3 240.8,53.5 241.6,52.5 242.4,53.2 243.2,51.9 244,52.6 244.8,52.5 245.6,52.2 246.4,53.1 247.2,53.2 248,52.3 248.8,51.3 249.6,51.5 250.4,51.6 251.2,50.7 252,51.3 252.8,52.1 253.6,51.8 254.4,51.2 255.2,52.0 256,51.4 256.8,50.9 257.6,52.2 258.4,51.7 259.2,50.9 260,51.2 260.8,50.9 261.6,51.0 262.3,50.4 263.1,50.5 263.9,50.7 264.7,51.4 265.5,51.3 266.3,51.3 267.1,52.0 267.9,52.2 268.7,50.7 269.5,50.7 270.3,51.5 271.1,51.9 271.9,52.1 272.7,51.7 273.5,51.0 274.3,52.8 275.1,51.7 275.9,52.3 276.7,52.2 277.5,52.1 278.3,52.8 279.1,52.9 279.9,51.9 280.7,51.4 281.5,53.8 282.3,52.9 283.1,52.9 283.9,53.1 284.7,53.5 285.5,53.5 286.3,53.0 287.1,52.7 287.9,53.0 288.7,54.0 289.5,53.3 290.3,54.2 291.1,54.1 291.9,54.9 292.7,54.1 293.5,53.2 294.3,55.2 295,54.5 295.8,54.6 296.6,55.5 297.4,54.9 298.1,54.9 298.9,55.5 299.6,56.2 300.3,56.1 301.1,57.4 301.8,56.6 302.5,57.0 303.2,57.2 303.9,59.0 304.5,59.3 305.1,59.1 305.7,59.5 306.3,59.8"/></g>
<g fill="none" stroke="#0000ff" stroke-width="1.15" stroke-linejoin="miter" stroke-miterlimit="3"><polyline points="602.3,316.0 602.3,315.4 602.3,314.9 602.3,314.3 602.4,313.8 602.4,313.2 602.4,312.7 602.4,312.1 602.4,311.6 602.4,311.0 602.5,310.5 602.5,309.9 602.5,309.4 602.5,308.8 602.5,308.3 602.6,307.7 602.6,307.2 602.6,306.6 602.6,306.0 602.7,305.5 602.7,304.9 602.7,304.4 602.7,303.8 602.8,303.3 602.8,302.7 602.8,302.2 602.8,301.6 602.9,301.1 602.9,300.5 602.9,300.0 603,299.4 603,298.9 603,298.3 603.1,297.8 603.1,297.2 603.1,296.7 603.2,296.1 603.2,295.6 603.2,295.0 603.3,294.5 603.3,293.9 603.3,293.4 603.4,292.8 603.4,292.3 603.5,291.7 603.5,291.2 603.5,290.6 603.6,290.1 603.6,289.5 603.6,289.0 603.7,288.4 603.7,287.9 603.8,287.3 603.8,286.8 603.9,286.2 603.9,285.7 603.9,285.1 604,284.6 604,284.0 604.1,283.5 604.1,282.9 604.2,282.4 604.2,281.8 604.3,281.3 604.3,280.7 604.4,280.2 604.4,279.6 604.5,279.1 604.5,278.5 604.5,278.0 604.6,277.4 604.6,276.9 604.7,276.3 604.7,275.8 604.8,275.2 604.9,274.7 604.9,274.1 605,273.6 605,273.0 605.1,272.5 605.1,271.9 605.2,271.4 605.2,270.8 605.3,270.3 605.3,269.7 605.4,269.2 605.4,268.6 605.5,268.1 605.5,267.5 605.6,267.0 605.7,266.4 605.7,265.9 605.8,265.3 605.8,264.8 605.9,264.2 605.9,263.7 606,263.1 606.1,262.6 606.1,262.0 606.2,261.5 606.2,260.9 606.3,260.4 606.4,259.9 606.4,259.3 606.5,258.8 606.5,258.2 606.6,257.7 606.7,257.1 606.7,256.6 606.8,256.0 606.9,255.5 606.9,254.9 607,254.4 607,253.8 607.1,253.3 607.2,252.7 607.2,252.2 607.3,251.6 607.4,251.1 607.4,250.5 607.5,250.0 607.5,249.5 607.6,248.9 607.7,248.4 607.7,247.8 607.8,247.3 607.9,246.7 607.9,246.2 608,245.6 608.1,245.1 608.1,244.5 608.2,244.0 608.3,243.4 608.3,242.9 608.4,242.3 608.5,241.8 608.5,241.3 608.6,240.7 608.7,240.2 608.7,239.6 608.8,239.1 608.9,238.5 608.9,238.0 609,237.4 609.1,236.9 609.1,236.3 609.2,235.8 609.3,235.2 609.3,234.7 609.4,234.1 609.5,233.6 609.6,233.1 609.6,232.5 609.7,232.0 609.8,231.4 609.8,230.9 609.9,230.3 610,229.8 610,229.2 610.1,228.7 610.2,228.1 610.2,227.6 610.3,227.1 610.4,226.5 610.5,226.0 610.5,225.4 610.6,224.9 610.7,224.3 610.8,223.8 610.9,223.2 610.9,222.7 611,222.1 611.1,221.6 611.2,221.1 611.3,220.5 611.4,220.0 611.5,219.4 611.6,218.9 611.7,218.3 611.8,217.8 611.9,217.3 612,216.7 612.1,216.2 612.2,215.6 612.3,215.1 612.4,214.6 612.5,214.0 612.6,213.5 612.7,212.9 612.8,212.4 612.9,211.8 613,211.3 613.2,210.8 613.3,210.2 613.4,209.7 613.5,209.1 613.6,208.6 613.7,208.1 613.8,207.5 613.9,207.0 614,206.4 614,205.9 614.1,205.3 614.2,204.8 614.3,204.3 614.4,203.7 614.5,203.2 614.6,202.6 614.7,202.1 614.8,201.5 614.9,201.0 615,200.5 615.2,199.9 615.3,199.4 615.4,198.8 615.5,198.3 615.6,197.8 615.7,197.2 615.9,196.7 616,196.2 616.1,195.6 616.3,195.1 616.4,194.5 616.5,194.0 616.7,193.5 616.8,192.9 616.9,192.4 617.1,191.9 617.2,191.3 617.3,190.8 617.5,190.3 617.6,189.7 617.8,189.2 617.9,188.7 618,188.1 618.2,187.6 618.3,187.1 618.5,186.5 618.6,186.0 618.8,185.5 618.9,184.9 619,184.4 619.2,183.9 619.4,183.3 619.5,182.8 619.7,182.3 619.8,181.7 620,181.2 620.2,180.7 620.4,180.2 620.6,179.7 620.7,179.2 620.9,178.7 621.1,178.2 621.3,177.7 621.5,177.1 621.7,176.6 621.9,176.1 622.1,175.5 622.2,175.0 622.4,174.5 622.6,174.0 622.7,173.5 622.9,172.9 623.1,172.4 623.2,171.9 623.4,171.4 623.6,170.8 623.7,170.3 623.9,169.8 624.1,169.3 624.3,168.8 624.5,168.1 624.7,167.7 624.9,167.3 625.1,166.6 625.3,166.2 625.5,165.6 625.8,165.3 626,164.6 626.2,164.2 626.5,163.5 626.7,163.2 627,162.8 627.2,162.0 627.5,161.8 627.7,161.1 628,160.7 628.3,159.9 628.5,159.9 628.8,159.2 629.1,158.7 629.4,158.2 629.7,157.7 630,157.6 630.3,156.9 630.6,156.6 630.9,156.0 631.2,155.6 631.5,155.0 631.8,154.8 632.2,154.7 632.5,153.9 632.8,153.5 633.2,152.8 633.5,152.7 633.9,152.4 634.2,151.3 634.6,151.0 635,151.3 635.3,151.1 635.7,150.0 636.1,149.7 636.4,149.4 636.8,149.0 637.2,148.3 637.6,148.5 638,147.6 638.4,147.0 638.8,146.7 639.2,146.4 639.6,146.0 640,145.7 640.4,145.4 640.8,144.1 641.2,144.4 641.7,144.6 642.1,144.1 642.5,143.4 642.9,143.1 643.4,143.2 643.8,142.5 644.3,142.1 644.7,142.4 645.1,141.4 645.6,141.4 646,140.9 646.5,140.6 646.9,141.9 647.3,139.7 647.8,140.0 648.2,138.9 648.7,139.0 649.1,137.8 649.6,138.2 650,138.0 650.5,137.2 650.9,137.7 651.4,137.0 651.9,137.1 652.3,136.1 652.8,136.4 653.2,137.0 653.7,135.6 654.1,135.0 654.6,135.1 655.1,134.6 655.5,134.2 656,134.0 656.5,133.5 656.9,133.5 657.4,133.0 657.9,132.5 658.3,132.8 658.8,132.2 659.3,132.9 659.7,131.6 660.2,131.2 660.7,130.9 661.2,131.0 661.7,130.4 662.2,129.9 662.6,130.9 663.1,129.4 663.6,130.1 664.1,129.4 664.6,128.7 665.1,129.4 665.6,128.5 666.1,128.0 666.6,128.1 667,128.3 667.5,127.8 668,127.6 668.5,127.6 669,126.8 669.5,126.6 670,126.1 670.4,125.5 670.9,125.7 671.4,126.1 671.9,124.6 672.4,125.5 672.9,124.9 673.4,124.2 673.9,124.3 674.4,124.7 674.9,123.6 675.4,123.9 675.9,123.8 676.4,122.8 676.9,123.2 677.4,122.9 677.9,122.3 678.4,122.5 678.9,121.9 679.5,121.6 680,121.2 680.5,121.5 681,121.0 681.5,120.8 682,120.3 682.5,120.0 683,120.0 683.5,120.4 684,119.6 684.5,120.2 685,119.6 685.6,119.3 686.1,118.6 686.6,119.6 687.1,116.0 687.6,118.7 688.1,118.9 688.6,118.0 689.2,117.6 689.7,117.7 690.2,117.8 690.7,117.8 691.2,117.3 691.7,116.5 692.3,116.5 692.8,116.6 693.3,115.9 693.8,116.1 694.3,116.8 694.9,115.1 695.4,116.1 695.9,115.2 696.4,115.2 697,115.2 697.5,114.5 698,114.8 698.6,115.2 699.1,114.8 699.6,114.6 700.1,113.9 700.7,114.0 701.2,113.9 701.7,114.0 702.2,114.0 702.8,113.0 703.3,113.8 703.8,112.9 704.3,112.8 704.9,112.3 705.4,112.5 705.9,112.3 706.5,111.8 707,112.0 707.5,111.9 708,111.6 708.6,112.6 709.1,111.0 709.6,111.6 710.1,111.0 710.7,111.1 711.2,110.1 711.7,110.7 712.3,110.5 712.8,110.7 713.3,109.8 713.8,110.5 714.4,109.5 714.9,110.2 715.4,109.8 716,109.2 716.5,110.1 717,108.7 717.6,109.0 718.1,109.0 718.6,108.9 719.2,108.7 719.7,108.8 720.2,108.5 720.8,108.2 721.3,106.8 721.8,107.8 722.4,108.1 722.9,107.3 723.5,107.6 724,106.7 724.5,107.0 725.1,106.6 725.6,107.5 726.1,106.3 726.7,106.7 727.2,106.9 727.7,106.8 728.3,106.7 728.8,106.7 729.4,105.4 729.9,106.4 730.4,105.9 731,105.8 731.5,104.7 732.1,105.6 732.6,105.9 733.1,105.1 733.7,104.8 734.2,105.2 734.8,105.4 735.3,105.4 735.8,104.3 736.4,104.9 736.9,104.4 737.5,104.6 738,103.6 738.6,104.7 739.1,104.1 739.6,104.2 740.2,104.0 740.7,103.6 741.3,104.1 741.8,103.6 742.4,103.5 742.9,103.9 743.4,103.5 744,103.2 744.5,103.6 745.1,103.0 745.6,103.0 746.1,103.2 746.7,103.2 747.2,103.1 747.7,103.1 748.3,102.4 748.8,101.9 749.3,102.7 749.9,102.4 750.4,101.7 750.9,101.9 751.5,101.4 752,100.8 752.5,101.6 753.1,101.2 753.6,101.0 754.1,101.5 754.7,101.3 755.2,100.4 755.8,100.1 756.3,99.8 756.8,100.3 757.4,100.1 757.9,100.3 758.5,100.1 759,99.7 759.6,99.7 760.1,99.2 760.7,100.1 761.2,99.4 761.7,99.8 762.3,99.2 762.8,99.4 763.4,99.5 763.9,99.1 764.5,98.9 765,99.9 765.6,99.0 766.1,99.2 766.7,98.9 767.2,98.6 767.8,99.3 768.3,98.7 768.9,98.8 769.4,96.6 770,98.7 770.5,98.8 771.1,98.6 771.6,98.4 772.2,98.8 772.7,98.4 773.3,98.5 773.8,98.6 774.4,98.6 774.9,97.7 775.5,98.2 776,97.8 776.6,97.3 777.1,97.2 777.7,97.3 778.2,98.9 778.8,96.9 779.3,97.4 779.9,97.6 780.4,97.7 780.9,97.5 781.5,97.3 782,97.2 782.6,98.1 783.1,97.3 783.7,97.4 784.2,98.1 784.8,96.7 785.3,96.6 785.9,95.9 786.4,97.1 787,96.7 787.5,97.1 788.1,97.0 788.6,96.4 789.2,97.0 789.7,96.4 790.3,97.9 790.8,96.8 791.4,97.5 791.9,96.9 792.5,96.5 793,96.6 793.6,96.5 794.1,96.1 794.7,95.8 795.2,96.7 795.8,96.8 796.3,96.0 796.9,96.0 797.4,95.9 798,96.4 798.5,96.4 799.1,95.6 799.6,95.8 800.2,95.7 800.7,95.9 801.3,96.1 801.8,96.2 802.4,95.6 802.9,95.3 803.5,95.9 804,95.8 804.6,96.3 805.1,95.6 805.7,95.7 806.2,95.8 806.8,95.5 807.3,95.6 807.9,95.5 808.4,95.1 809,95.7 809.5,95.4 810.1,95.8 810.6,94.9 811.2,95.1 811.7,95.5 812.3,94.7 812.8,95.3 813.4,95.2 813.9,95.2 814.5,95.2 815,94.5 815.6,95.3 816.1,95.3 816.7,95.6 817.2,95.8 817.8,95.4 818.3,95.6 818.9,94.4 819.4,95.4 820,95.6 820.5,95.5 821.1,95.3 821.6,95.0 822.2,95.0 822.7,95.1 823.3,95.3 823.9,95.3 824.4,94.4 825,94.6 825.5,95.7 826.1,94.7 826.6,94.0 827.2,95.5 827.7,95.3 828.3,95.0 828.8,95.3 829.4,95.1 829.9,94.6 830.5,94.9 831,94.5 831.6,94.7 832.1,94.6 832.7,95.0 833.2,95.3 833.8,94.7 834.3,95.1 834.9,94.1 835.4,94.5 836,95.1 836.5,95.2 837.1,95.2 837.6,95.3 838.2,94.3 838.7,94.7 839.3,94.0 839.8,94.8 840.4,95.0 840.9,94.8 841.5,94.6 842,95.1 842.6,95.1 843.1,95.0 843.7,94.7 844.2,95.0 844.8,95.0 845.3,95.1 845.9,95.3 846.4,95.1 847,94.6 847.5,95.1 848.1,95.3 848.6,95.1 849.2,95.4 849.7,95.1 850.3,95.9 850.8,95.6 851.4,95.5 851.9,95.8 852.5,95.9 853,95.7 853.6,97.3 854.1,96.6 854.7,96.0 855.2,96.0 855.8,95.8 856.3,96.3 856.8,96.5 857.4,96.2 857.9,97.2 858.4,96.9 859,96.7 859.5,97.1 860,97.4 860.5,97.7 860.9,97.7 861.4,98.3 861.9,98.2 862.3,98.9 862.7,99.5 863.1,99.6 863.4,100.3 863.6,100.7 863.9,101.1 864.1,101.5 864.3,102.2 864.5,102.8 864.7,103.1 864.9,103.7 865.1,104.3 865.3,104.7 865.5,105.3 865.7,105.8 865.8,106.4 866,106.9 866.1,107.4 866.2,108.0 866.3,108.5"/><polyline stroke-width="1.50" points="635.3,150.2 635.9,149.9 636.4,149.3 637,149.1 637.5,148.6 638.1,147.4 638.7,146.7 639.2,146.5 639.8,146.0 640.4,145.3 641,145.6 641.7,144.4 642.3,144.1 642.9,143.5 643.5,142.6 644.2,142.1 644.8,141.9 645.4,141.2 646.1,140.9 646.7,140.4 647.4,140.1 648,139.3 648.7,138.6 649.3,138.9 650,138.0 650.6,137.3 651.3,136.9 652,136.8 652.6,136.5 653.3,135.5 654,135.2 654.6,134.8 655.3,134.3 656,134.0 656.7,133.9 657.3,133.2 658,132.8 658.7,132.5 659.4,131.6 660.1,131.5 660.8,131.3 661.5,130.8 662.2,130.3 662.9,129.9 663.6,130.0 664.3,129.0 665,128.7 665.8,128.4 666.5,128.3 667.2,128.0 667.9,126.8 668.6,127.1 669.3,126.6 670,125.9 670.7,125.5 671.4,126.3 672.2,124.6 672.9,124.8 673.6,124.5 674.3,124.2 675.1,123.9 675.8,123.5 676.5,122.7 677.3,123.0 678,122.0 678.7,122.1 679.5,122.2 680.2,121.6 680.9,120.8 681.7,120.9 682.4,120.2 683.2,119.7 683.9,120.0 684.6,119.9 685.4,119.4 686.1,119.5 686.9,118.5 687.6,118.6 688.4,118.5 689.1,117.5 689.9,117.7 690.6,116.7 691.4,117.5 692.1,116.8 692.9,116.6 693.6,115.6 694.4,116.5 695.2,115.8 695.9,115.5 696.7,115.4 697.5,115.3 698.2,115.1 699,114.9 699.8,114.6 700.5,114.6 701.3,114.4 702.1,113.7 702.8,113.5 703.6,113.4 704.4,113.6 705.1,112.7 705.9,112.5 706.7,112.4 707.4,111.8 708.2,112.2 709,110.9 709.7,111.4 710.5,111.2 711.3,110.4 712,110.7 712.8,110.2 713.6,109.8 714.4,109.5 715.1,109.5 715.9,109.6 716.7,109.5 717.5,109.4 718.2,108.7 719,108.8 719.8,109.0 720.6,108.6 721.3,107.6 722.1,109.0 722.9,107.3 723.7,107.6 724.5,107.2 725.2,107.2 726,106.9 726.8,106.6 727.6,107.0 728.4,106.4 729.1,106.4 729.9,106.3 730.7,106.0 731.5,105.4 732.3,105.4 733.1,105.2 733.9,105.3 734.6,104.9 735.4,104.7 736.2,104.7 737,104.2 737.8,104.1 738.6,104.2 739.4,104.7 740.2,104.0 741,103.7 741.8,104.1 742.5,103.9 743.3,103.5 744.1,103.2 744.9,102.9 745.7,103.2 746.5,103.0 747.2,102.5 748,102.5 748.8,101.4 749.6,102.1 750.3,101.9 751.1,101.7 751.9,101.7 752.7,101.0 753.5,100.8 754.2,100.8 755,101.2 755.8,100.3 756.6,100.0 757.4,101.2 758.2,100.0 759,99.7 759.8,100.1 760.6,99.7 761.3,99.7 762.1,99.0 762.9,99.4 763.7,99.3 764.5,99.3 765.3,99.5 766.1,99.3 766.9,99.4 767.7,98.6 768.5,98.8 769.3,98.6 770.1,98.6 770.9,98.7 771.7,98.5 772.5,98.6 773.3,98.3 774.1,98.3 774.9,98.0 775.7,98.0 776.5,98.4 777.3,97.6 778.1,98.0 778.9,97.5 779.7,97.8 780.5,98.1 781.3,97.5 782.1,98.0 782.9,97.4 783.7,97.7 784.5,97.6 785.3,97.4 786.1,97.3 786.9,97.6 787.7,96.5 788.5,97.2 789.3,96.8 790.1,97.0 790.9,96.6 791.7,96.5 792.5,95.8 793.3,96.4 794.1,96.2 794.9,96.3 795.7,96.0 796.5,96.6 797.3,95.7 798.1,96.4 798.9,95.8 799.7,95.5 800.5,96.1 801.3,95.7 802.1,95.6 802.9,95.8 803.7,95.0 804.5,95.8 805.3,95.8 806.1,95.9 806.9,95.2 807.7,95.8 808.5,95.8 809.3,95.3 810.1,95.5 810.9,95.5 811.7,95.5 812.5,95.3 813.3,95.2 814.1,95.2 814.9,95.3 815.7,95.3 816.5,95.2 817.3,95.3 818.1,95.1 818.9,95.4 819.7,95.6 820.5,95.1 821.3,95.6 822.1,95.4 822.9,95.7 823.7,95.0 824.5,95.1 825.3,94.6 826.1,95.0 826.9,94.6 827.7,94.7 828.5,95.1 829.3,94.7 830.1,95.3 830.9,95.1 831.7,95.1 832.5,94.9 833.4,94.9 834.2,95.5 835,94.6 835.8,94.8 836.6,94.9 837.4,95.3 838.2,94.6 839,94.4 839.8,94.3 840.6,95.2 841.4,95.1 842.2,95.0 843,94.5 843.8,95.0 844.6,94.9 845.4,94.4 846.2,95.2 847,95.4 847.8,94.8 848.6,94.7 849.4,94.8 850.2,95.5 851,95.7 851.8,95.3 852.6,95.7 853.4,95.4 854.2,96.2 855,96.3 855.7,96.5 856.5,96.2 857.3,96.4 858.1,95.8 858.9,97.5 859.6,97.3 860.3,97.6 861,98.7 861.7,98.7 862.4,98.8"/></g>
<g fill="none" stroke="#ff0000" stroke-width="1.25" stroke-linejoin="miter" stroke-miterlimit="3"><polyline points="602.2,316.0 602.2,315.4 602.2,314.9 602.2,314.3 602.3,313.8 602.3,313.2 602.3,312.7 602.3,312.1 602.3,311.6 602.3,311.0 602.3,310.5 602.4,309.9 602.4,309.4 602.4,308.8 602.4,308.3 602.4,307.7 602.5,307.2 602.5,306.6 602.5,306.0 602.5,305.5 602.6,304.9 602.6,304.4 602.6,303.8 602.6,303.3 602.7,302.7 602.7,302.2 602.7,301.6 602.7,301.1 602.8,300.5 602.8,300.0 602.8,299.4 602.9,298.9 602.9,298.3 602.9,297.8 602.9,297.2 603,296.7 603,296.1 603,295.6 603.1,295.0 603.1,294.5 603.1,293.9 603.2,293.4 603.2,292.8 603.3,292.3 603.3,291.7 603.3,291.2 603.4,290.6 603.4,290.1 603.4,289.5 603.5,289.0 603.5,288.4 603.6,287.9 603.6,287.3 603.6,286.8 603.7,286.2 603.7,285.7 603.8,285.1 603.8,284.6 603.9,284.0 603.9,283.5 603.9,282.9 604,282.4 604,281.8 604.1,281.3 604.1,280.7 604.2,280.2 604.2,279.6 604.3,279.1 604.3,278.5 604.4,278.0 604.4,277.4 604.5,276.9 604.5,276.3 604.6,275.8 604.6,275.2 604.7,274.7 604.7,274.1 604.8,273.6 604.8,273.0 604.9,272.5 604.9,271.9 605,271.4 605,270.8 605.1,270.3 605.1,269.7 605.2,269.2 605.2,268.6 605.3,268.1 605.3,267.5 605.4,267.0 605.5,266.4 605.5,265.9 605.6,265.4 605.6,264.8 605.7,264.3 605.7,263.7 605.8,263.2 605.9,262.6 605.9,262.1 606,261.5 606,261.0 606.1,260.4 606.1,259.9 606.2,259.3 606.3,258.8 606.3,258.2 606.4,257.7 606.4,257.1 606.5,256.6 606.6,256.0 606.6,255.5 606.7,254.9 606.8,254.4 606.8,253.9 606.9,253.3 606.9,252.8 607,252.2 607.1,251.7 607.1,251.1 607.2,250.6 607.3,250.0 607.3,249.5 607.4,248.9 607.4,248.4 607.5,247.8 607.6,247.3 607.6,246.7 607.7,246.2 607.8,245.7 607.8,245.1 607.9,244.6 608,244.0 608,243.5 608.1,242.9 608.2,242.4 608.2,241.8 608.3,241.3 608.4,240.7 608.4,240.2 608.5,239.6 608.6,239.1 608.6,238.6 608.7,238.0 608.8,237.5 608.8,236.9 608.9,236.4 609,235.8 609,235.3 609.1,234.7 609.2,234.2 609.2,233.6 609.3,233.1 609.4,232.5 609.4,232.0 609.5,231.5 609.6,230.9 609.7,230.4 609.7,229.8 609.8,229.3 609.9,228.7 609.9,228.2 610,227.6 610.1,227.1 610.1,226.5 610.2,226.0 610.3,225.5 610.3,224.9 610.4,224.4 610.5,223.8 610.6,223.3 610.7,222.7 610.8,222.2 610.9,221.6 611,221.1 611.1,220.6 611.2,220.0 611.3,219.5 611.4,218.9 611.5,218.4 611.6,217.8 611.7,217.3 611.8,216.8 611.9,216.2 612,215.7 612.1,215.1 612.2,214.6 612.3,214.1 612.4,213.5 612.5,213.0 612.6,212.4 612.7,211.9 612.8,211.4 612.9,210.8 613,210.3 613.1,209.7 613.2,209.2 613.3,208.6 613.4,208.1 613.5,207.6 613.6,207.0 613.7,206.5 613.8,205.9 613.9,205.4 614,204.8 614.1,204.3 614.2,203.8 614.3,203.2 614.4,202.7 614.5,202.1 614.6,201.6 614.7,201.1 614.8,200.5 614.9,200.0 615.1,199.4 615.2,198.9 615.3,198.4 615.4,197.8 615.5,197.3 615.7,196.8 615.8,196.2 615.9,195.7 616,195.1 616.2,194.6 616.3,194.1 616.4,193.5 616.6,193.0 616.7,192.5 616.8,191.9 617,191.4 617.1,190.9 617.3,190.3 617.4,189.8 617.5,189.3 617.7,188.7 617.8,188.2 618,187.7 618.1,187.1 618.3,186.6 618.4,186.1 618.6,185.6 618.7,185.0 618.9,184.5 619,184.0 619.2,183.4 619.4,182.9 619.5,182.4 619.7,181.9 619.9,181.3 620.1,180.9 620.3,180.3 620.5,179.9 620.6,179.3 620.8,178.9 621,178.3 621.2,177.7 621.4,177.2 621.6,176.8 621.8,176.3 622,175.8 622.2,175.2 622.4,174.7 622.5,174.1 622.7,173.6 622.9,173.0 623.1,172.6 623.2,172.2 623.4,171.5 623.6,171.0 623.8,170.4 623.9,169.9 624.1,169.4 624.3,169.0 624.5,168.4 624.7,167.9 624.9,167.4 625.1,166.9 625.4,166.3 625.6,166.0 625.8,165.3 626,164.8 626.3,164.3 626.5,163.9 626.7,163.3 627,162.9 627.2,162.5 627.5,161.8 627.7,161.2 628,161.1 628.3,160.5 628.6,160.4 628.8,159.7 629.1,158.9 629.4,158.5 629.7,157.8 630,157.6 630.3,157.1 630.7,156.5 631,156.8 631.3,155.8 631.7,155.6 632,154.9 632.4,154.8 632.7,154.3 633.1,153.9 633.5,152.9 633.9,152.9 634.3,152.6 634.7,151.6 635.1,151.9 635.5,151.3 635.9,150.9 636.4,150.7 636.8,150.4 637.2,149.9 637.6,149.7 638.1,149.6 638.5,149.2 639,148.9 639.4,148.6 639.9,148.1 640.3,147.6 640.8,148.0 641.2,147.2 641.7,147.1 642.1,146.3 642.6,145.8 643.1,145.5 643.5,145.5 644,145.0 644.5,145.3 645,144.6 645.4,144.3 645.9,144.7 646.4,142.9 646.8,143.5 647.3,144.3 647.8,143.2 648.3,142.9 648.8,142.4 649.2,142.7 649.7,142.4 650.2,140.9 650.7,141.5 651.2,141.3 651.7,141.2 652.1,140.3 652.6,140.4 653.1,140.8 653.6,140.4 654.1,139.4 654.6,139.6 655.1,139.0 655.6,138.2 656.1,137.8 656.6,138.9 657.1,138.5 657.6,138.8 658.1,137.5 658.6,137.6 659.1,137.1 659.6,138.5 660.1,137.1 660.6,137.5 661.1,136.8 661.6,135.6 662.1,136.2 662.7,135.9 663.2,136.0 663.7,135.7 664.2,134.9 664.7,134.9 665.2,135.2 665.7,134.3 666.2,134.4 666.7,133.8 667.2,134.4 667.8,134.3 668.3,133.8 668.8,133.2 669.4,133.3 669.9,133.2 670.4,133.0 670.9,133.0 671.5,132.2 672,132.1 672.5,132.0 673,132.5 673.5,131.6 674.1,131.8 674.6,131.9 675.1,130.9 675.6,130.5 676.1,130.4 676.6,131.0 677.2,130.8 677.7,130.4 678.2,129.9 678.7,130.1 679.2,129.4 679.8,129.9 680.3,129.6 680.8,129.4 681.3,129.8 681.9,128.7 682.4,128.6 682.9,129.0 683.5,129.1 684,128.2 684.5,128.6 685.1,128.2 685.6,128.3 686.1,127.7 686.7,128.2 687.2,128.5 687.8,127.6 688.3,127.3 688.8,128.1 689.4,126.8 689.9,127.5 690.4,127.4 691,126.3 691.5,127.0 692.1,127.1 692.6,126.4 693.1,125.6 693.7,126.0 694.2,126.8 694.7,125.6 695.3,126.2 695.8,125.3 696.3,125.5 696.9,125.3 697.4,125.4 698,125.5 698.5,125.2 699,124.8 699.6,124.9 700.1,124.8 700.7,124.6 701.2,124.4 701.7,124.2 702.3,124.5 702.8,125.0 703.4,124.8 703.9,124.1 704.4,123.6 705,123.6 705.5,124.2 706,123.5 706.6,123.6 707.1,123.7 707.7,123.0 708.2,123.5 708.7,123.3 709.3,123.1 709.8,122.5 710.4,122.8 710.9,121.9 711.4,122.5 712,122.4 712.5,122.1 713.1,122.3 713.6,121.6 714.2,121.7 714.7,121.4 715.2,121.8 715.8,121.5 716.3,121.9 716.9,121.2 717.4,121.6 718,121.3 718.5,121.3 719,121.3 719.6,121.5 720.1,121.4 720.7,119.3 721.2,120.6 721.8,120.3 722.3,120.6 722.8,120.1 723.4,120.7 723.9,120.5 724.5,120.2 725,119.7 725.6,119.4 726.1,119.4 726.6,119.7 727.2,119.9 727.7,119.9 728.3,119.9 728.8,119.1 729.4,119.3 729.9,119.5 730.4,119.3 731,119.0 731.5,118.5 732.1,119.5 732.6,118.8 733.2,118.2 733.7,118.8 734.3,118.7 734.8,118.4 735.4,118.4 735.9,118.0 736.5,118.8 737,118.2 737.5,117.5 738.1,118.1 738.6,117.2 739.2,118.1 739.7,117.7 740.3,118.1 740.8,118.2 741.4,117.9 741.9,118.7 742.5,117.9 743,118.0 743.6,117.7 744.1,117.6 744.7,117.3 745.2,118.0 745.8,117.8 746.3,118.0 746.9,117.2 747.4,117.1 748,117.3 748.5,117.3 749.1,117.2 749.6,117.9 750.2,117.1 750.7,117.2 751.3,117.2 751.8,116.9 752.4,116.9 752.9,117.3 753.5,117.3 754,116.8 754.6,116.7 755.1,116.7 755.7,116.9 756.2,116.6 756.8,116.6 757.3,117.1 757.8,116.2 758.4,116.0 758.9,115.5 759.5,116.8 760,116.4 760.6,115.6 761.1,116.4 761.7,116.1 762.2,116.0 762.8,115.4 763.3,115.6 763.9,115.6 764.4,116.0 765,115.4 765.5,115.3 766.1,115.3 766.6,115.8 767.2,115.3 767.7,115.7 768.3,115.3 768.8,115.5 769.4,115.0 769.9,115.4 770.5,115.0 771,114.9 771.6,115.4 772.1,114.6 772.7,115.1 773.2,115.1 773.8,115.0 774.3,114.9 774.9,115.2 775.4,114.6 776,115.3 776.5,115.2 777.1,114.8 777.6,114.6 778.2,114.2 778.7,114.2 779.3,114.3 779.8,114.5 780.4,115.0 780.9,113.9 781.4,114.7 782,114.4 782.5,114.4 783.1,114.3 783.6,114.0 784.2,114.1 784.7,114.2 785.3,114.5 785.8,114.0 786.4,114.5 786.9,114.4 787.5,113.9 788,114.1 788.6,114.4 789.2,113.5 789.7,113.6 790.3,114.2 790.8,114.1 791.4,113.6 791.9,112.2 792.5,114.0 793,114.2 793.6,113.6 794.1,113.4 794.7,114.5 795.2,114.0 795.8,113.3 796.3,113.4 796.9,113.6 797.4,114.3 798,113.9 798.5,113.6 799.1,112.9 799.6,114.4 800.2,113.3 800.7,114.1 801.3,114.1 801.8,113.7 802.4,113.7 802.9,113.2 803.5,113.1 804,113.2 804.6,113.0 805.1,113.4 805.7,113.0 806.2,113.9 806.8,114.3 807.3,112.6 807.9,112.9 808.4,113.6 809,113.5 809.5,113.3 810.1,113.3 810.6,113.5 811.2,113.2 811.7,113.6 812.3,113.8 812.8,113.8 813.4,113.9 813.9,113.4 814.5,113.4 815,112.6 815.6,113.1 816.1,112.9 816.7,113.6 817.2,113.8 817.8,113.0 818.3,113.0 818.9,112.9 819.4,113.1 820,112.8 820.5,113.4 821.1,113.0 821.6,112.9 822.2,113.3 822.7,112.9 823.3,112.8 823.8,113.3 824.4,112.8 824.9,112.4 825.5,112.9 826.1,112.7 826.6,113.7 827.2,112.9 827.7,112.7 828.3,112.1 828.8,113.3 829.4,113.1 829.9,112.9 830.5,112.8 831,113.0 831.6,113.2 832.1,113.0 832.7,114.0 833.2,113.0 833.8,112.1 834.3,112.7 834.9,113.2 835.4,112.6 836,112.8 836.5,112.1 837.1,112.8 837.6,112.4 838.2,113.0 838.7,113.2 839.3,113.2 839.8,114.5 840.4,114.3 840.9,112.9 841.5,112.0 842,112.7 842.6,112.5 843.1,112.9 843.7,113.1 844.2,112.7 844.8,113.2 845.3,112.4 845.9,113.1 846.4,112.6 847,112.6 847.5,112.5 848.1,113.0 848.6,113.4 849.2,112.7 849.7,112.8 850.3,113.1 850.8,112.6 851.4,112.9 851.9,112.8 852.5,112.6 853,112.4 853.6,113.3 854.1,112.9 854.7,112.6 855.3,113.3 855.8,112.9 856.4,112.5 856.9,112.5 857.5,112.9 858,112.7 858.6,113.0 859.1,112.5 859.7,110.9 860.2,112.8 860.8,113.1 861.3,112.7 861.9,113.8 862.4,113.7 863,112.9 863.5,112.6 864.1,113.7 864.6,112.7 865.2,112.9 865.7,113.1 866.3,112.9 866.8,112.3 867.4,113.6 867.9,112.7 868.5,112.9 869,113.2 869.6,113.0 870.1,112.5 870.7,113.2 871.2,112.6 871.8,113.1 872.3,113.3 872.9,112.9 873.4,113.4 874,113.6 874.5,112.9 875.1,113.4 875.6,113.1 876.2,113.4 876.7,112.9 877.3,113.0 877.8,113.4 878.4,113.3 878.9,113.2 879.5,112.8 880,112.8 880.6,113.2 881.1,113.1 881.7,112.8 882.2,113.0 882.8,113.3 883.3,112.8 883.9,113.0 884.5,112.8 885,113.4 885.6,113.1 886.1,112.0 886.7,113.4 887.2,113.2 887.8,112.9 888.3,113.5 888.9,112.6 889.4,112.7 890,113.2 890.5,113.0 891.1,113.5 891.6,113.2 892.2,113.1 892.7,113.4 893.3,112.9 893.8,112.6 894.4,113.3 894.9,112.8 895.5,113.2 896,112.8 896.6,113.1 897.1,113.0 897.7,112.9 898.2,112.9 898.8,113.3 899.3,113.1 899.9,113.9 900.4,112.9 901,113.0 901.5,112.8 902.1,112.9 902.6,113.3 903.2,113.3 903.7,113.5 904.3,113.7 904.8,114.6 905.4,113.3 905.9,113.1 906.5,114.0 907,113.7 907.6,112.6 908.1,113.6 908.7,113.9 909.2,113.5 909.8,113.8 910.3,113.7 910.9,113.9 911.4,113.8 912,114.0 912.5,113.9 913.1,114.1 913.6,113.8 914.2,114.2 914.7,113.9 915.3,113.5 915.8,114.2 916.4,114.3 916.9,113.9 917.5,114.7 918,114.2 918.6,114.6 919.1,114.3 919.7,114.5 920.2,114.7 920.8,114.9 921.3,114.4 921.9,114.3 922.4,115.3 923,114.8 923.5,115.4 924.1,114.8 924.6,114.4 925.2,115.1 925.7,115.3 926.3,115.2 926.8,114.9 927.4,115.3 927.9,114.7 928.5,114.7 929,115.2 929.6,115.5 930.1,114.6 930.7,115.5 931.2,115.3 931.7,115.1 932.3,115.5 932.8,115.5 933.4,115.6 933.9,115.8 934.5,115.8 935,116.1 935.6,116.1 936.1,115.6 936.7,115.8 937.2,114.6 937.8,115.7 938.3,115.4 938.9,115.7 939.4,116.0 940,116.2 940.5,115.9 941.1,116.9 941.6,116.2 942.2,115.7 942.7,116.9 943.3,116.3 943.8,116.3 944.4,116.7 944.9,117.4 945.5,117.0 946,117.3 946.6,117.1 947.1,116.8 947.7,116.6 948.2,117.1 948.8,117.3 949.3,117.2 949.9,117.2 950.4,117.6 951,117.2 951.5,116.9 952,116.9 952.6,117.6 953.1,118.1 953.7,117.7 954.2,117.7 954.8,117.6 955.3,118.3 955.8,117.6 956.4,117.9 957,118.8 957.5,118.3 958.1,118.4 958.7,119.1 959.2,119.2 959.8,119.0 960.2,119.5 960.6,118.7 961,119.4 961.3,120.1 961.6,120.5 961.8,121.1 962,121.6 962.2,122.2 962.3,122.7 962.5,123.2 962.6,123.8 962.7,124.3 962.9,124.8 963.1,125.3 963.2,125.9 963.4,126.4 963.6,127.0 963.8,127.5 963.9,128.0 964.1,128.6 964.3,129.0 964.4,129.6 964.6,130.1"/></g>
<g fill="none" stroke="#000000" stroke-width="1.15" stroke-linejoin="miter" stroke-miterlimit="3"><polyline points="602,316.0 602,315.4 602.1,314.9 602.1,314.3 602.1,313.8 602.1,313.2 602.2,312.7 602.2,312.1 602.2,311.6 602.2,311.0 602.3,310.5 602.3,309.9 602.3,309.4 602.3,308.8 602.4,308.3 602.4,307.7 602.4,307.2 602.5,306.6 602.5,306.1 602.5,305.5 602.6,305.0 602.6,304.4 602.6,303.9 602.6,303.3 602.7,302.8 602.7,302.2 602.7,301.7 602.8,301.1 602.8,300.6 602.8,300.0 602.9,299.5 602.9,298.9 602.9,298.4 603,297.8 603,297.3 603,296.7 603.1,296.2 603.1,295.6 603.1,295.1 603.2,294.5 603.2,293.9 603.2,293.4 603.3,292.8 603.3,292.3 603.3,291.7 603.4,291.2 603.4,290.6 603.5,290.1 603.5,289.5 603.5,289.0 603.6,288.4 603.6,287.9 603.6,287.3 603.7,286.8 603.7,286.2 603.8,285.7 603.8,285.1 603.8,284.6 603.9,284.0 603.9,283.5 603.9,282.9 604,282.4 604,281.8 604.1,281.3 604.1,280.7 604.1,280.2 604.2,279.6 604.2,279.1 604.3,278.5 604.3,278.0 604.4,277.4 604.4,276.9 604.4,276.3 604.5,275.8 604.5,275.2 604.6,274.7 604.6,274.1 604.6,273.6 604.7,273.0 604.7,272.5 604.8,271.9 604.8,271.4 604.9,270.8 604.9,270.3 604.9,269.7 605,269.2 605,268.6 605.1,268.1 605.1,267.5 605.2,267.0 605.2,266.4 605.3,265.9 605.3,265.3 605.3,264.8 605.4,264.2 605.4,263.7 605.5,263.1 605.5,262.6 605.6,262.0 605.6,261.5 605.7,260.9 605.7,260.4 605.8,259.8 605.8,259.3 605.8,258.7 605.9,258.2 605.9,257.6 606,257.1 606,256.5 606.1,256.0 606.1,255.4 606.2,254.9 606.2,254.3 606.3,253.8 606.3,253.2 606.4,252.7 606.4,252.1 606.5,251.6 606.5,251.0 606.6,250.5 606.6,249.9 606.7,249.4 606.7,248.8 606.8,248.3 606.8,247.7 606.9,247.2 606.9,246.6 606.9,246.1 607,245.5 607,245.0 607.1,244.4 607.1,243.9 607.2,243.3 607.2,242.8 607.3,242.2 607.3,241.7 607.4,241.1 607.4,240.6 607.5,240.1 607.5,239.5 607.6,239.0 607.6,238.4 607.7,237.9 607.7,237.3 607.8,236.8 607.8,236.2 607.9,235.7 607.9,235.1 608,234.6 608.1,234.0 608.1,233.5 608.2,232.9 608.2,232.4 608.3,231.8 608.3,231.3 608.4,230.7 608.4,230.2 608.5,229.6 608.5,229.1 608.6,228.5 608.6,228.0 608.7,227.4 608.7,226.9 608.8,226.3 608.8,225.8 608.9,225.2 608.9,224.7 609,224.1 609,223.6 609.1,223.0 609.2,222.5 609.2,221.9 609.3,221.4 609.3,220.8 609.4,220.3 609.5,219.7 609.5,219.2 609.6,218.6 609.6,218.1 609.7,217.5 609.8,217.0 609.8,216.4 609.9,215.9 610,215.4 610,214.8 610.1,214.3 610.2,213.7 610.2,213.2 610.3,212.6 610.4,212.1 610.4,211.5 610.5,211.0 610.6,210.4 610.7,209.9 610.7,209.3 610.8,208.8 610.9,208.2 611,207.7 611,207.1 611.1,206.6 611.2,206.1 611.3,205.5 611.3,205.0 611.4,204.4 611.5,203.9 611.6,203.3 611.6,202.8 611.7,202.2 611.8,201.7 611.9,201.1 612,200.6 612,200.0 612.1,199.5 612.2,198.9 612.3,198.4 612.4,197.9 612.4,197.3 612.5,196.8 612.6,196.2 612.7,195.7 612.8,195.1 612.9,194.6 613,194.0 613,193.5 613.1,193.0 613.2,192.4 613.3,191.9 613.4,191.3 613.5,190.8 613.6,190.2 613.7,189.7 613.8,189.1 613.9,188.6 614,188.1 614.1,187.5 614.2,187.0 614.3,186.4 614.4,185.9 614.5,185.4 614.6,184.8 614.8,184.3 614.9,183.7 615,183.2 615.1,182.7 615.2,182.1 615.3,181.6 615.5,181.0 615.6,180.5 615.7,180.0 615.8,179.4 616,178.9 616.1,178.4 616.2,177.8 616.4,177.3 616.5,176.7 616.6,176.2 616.8,175.7 616.9,175.1 617.1,174.6 617.2,174.1 617.4,173.5 617.5,173.0 617.6,172.5 617.8,172.0 617.9,171.4 618.1,170.9 618.2,170.4 618.4,169.8 618.5,169.3 618.7,168.8 618.8,168.2 619,167.7 619.1,167.2 619.3,166.6 619.4,166.1 619.6,165.6 619.7,165.0 619.8,164.5 620,164.0 620.1,163.4 620.3,162.9 620.4,162.4 620.6,161.8 620.7,161.4 620.9,160.8 621.1,160.3 621.2,159.8 621.4,159.2 621.6,158.6 621.7,158.3 621.9,157.7 622.1,157.2 622.3,156.8 622.5,156.1 622.7,155.7 622.9,155.1 623.1,154.5 623.3,154.1 623.5,153.6 623.7,153.1 623.9,152.6 624.1,151.9 624.3,151.7 624.5,151.1 624.7,150.5 624.9,149.9 625.1,149.5 625.4,149.0 625.6,148.5 625.8,147.8 626,147.4 626.3,147.0 626.5,146.5 626.8,145.8 627.1,145.4 627.4,145.0 627.7,144.6 628,143.9 628.3,144.1 628.6,143.1 628.9,142.8 629.2,142.7 629.6,141.9 629.9,141.5 630.2,140.9 630.6,140.6 630.9,139.8 631.3,139.7 631.7,139.3 632.1,138.6 632.5,138.8 632.9,138.2 633.3,137.2 633.7,137.6 634.1,136.7 634.5,136.8 634.9,136.0 635.3,135.8 635.8,135.7 636.2,135.8 636.6,134.4 637.1,134.4 637.5,134.1 638,134.3 638.4,133.5 638.9,133.4 639.3,133.4 639.8,132.9 640.2,132.2 640.7,131.9 641.2,131.6 641.6,131.5 642.1,130.8 642.6,130.8 643,130.8 643.5,130.1 644,129.8 644.5,129.8 644.9,129.7 645.4,128.6 645.9,128.5 646.4,129.1 646.9,128.3 647.4,127.7 647.8,127.9 648.3,128.2 648.8,127.1 649.3,126.7 649.8,126.7 650.3,127.2 650.8,126.1 651.3,126.3 651.8,125.5 652.3,125.9 652.8,125.3 653.3,125.5 653.8,125.0 654.3,125.1 654.8,124.7 655.3,124.4 655.9,123.4 656.4,124.2 656.9,123.6 657.4,122.7 657.9,123.3 658.4,123.6 658.9,122.8 659.4,121.7 660,122.2 660.5,121.9 661,122.0 661.5,121.0 662,121.9 662.6,121.8 663.1,121.7 663.6,121.2 664.1,121.1 664.7,121.3 665.2,120.9 665.7,120.4 666.2,120.5 666.8,120.5 667.3,120.6 667.8,120.1 668.3,119.4 668.9,119.4 669.4,119.5 669.9,118.0 670.4,119.5 671,118.1 671.5,118.4 672,118.1 672.5,118.8 673.1,118.5 673.6,118.2 674.1,118.2 674.6,117.5 675.2,117.7 675.7,117.4 676.2,117.2 676.7,117.0 677.3,117.2 677.8,117.1 678.3,116.0 678.9,116.2 679.4,116.2 679.9,116.3 680.4,115.3 681,115.4 681.5,115.5 682,116.2 682.6,115.0 683.1,115.1 683.7,115.1 684.2,114.9 684.7,114.9 685.3,116.2 685.8,114.5 686.3,114.6 686.9,114.5 687.4,114.4 688,114.3 688.5,113.6 689,114.0 689.6,113.9 690.1,114.0 690.7,113.9 691.2,114.1 691.8,113.1 692.3,113.3 692.8,113.3 693.4,112.9 693.9,112.9 694.5,112.8 695,112.7 695.6,113.7 696.1,112.7 696.7,113.2 697.2,112.2 697.8,112.6 698.3,112.2 698.8,112.5 699.4,112.9 699.9,113.0 700.5,112.4 701,112.2 701.6,112.0 702.1,112.0 702.7,112.4 703.2,111.1 703.8,111.5 704.3,111.2 704.9,111.9 705.4,111.4 706,111.7 706.5,110.8 707,110.8 707.6,111.7 708.1,111.4 708.7,110.6 709.2,110.2 709.8,110.4 710.3,110.9 710.9,110.6 711.4,110.2 712,110.7 712.5,111.0 713.1,109.9 713.6,110.3 714.2,109.9 714.7,110.6 715.3,110.2 715.8,110.8 716.4,109.4 716.9,110.2 717.5,109.8 718,109.9 718.5,109.8 719.1,109.9 719.6,109.0 720.2,109.4 720.7,109.8 721.3,110.3 721.8,109.7 722.4,109.5 722.9,109.2 723.5,109.1 724,109.3 724.6,109.0 725.1,109.3 725.7,109.2 726.2,109.9 726.8,109.1 727.3,109.5 727.9,108.9 728.4,109.3 729,109.9 729.5,108.7 730.1,108.4 730.6,109.2 731.2,108.8 731.7,108.6 732.3,108.8 732.8,108.7 733.4,109.1 733.9,108.7 734.5,107.7 735,108.0 735.6,107.7 736.1,107.9 736.7,108.8 737.2,107.7 737.8,108.3 738.3,108.7 738.9,108.4 739.4,108.7 740,108.4 740.5,108.7 741.1,107.8 741.6,107.6 742.2,108.7 742.7,108.0 743.3,107.9 743.9,107.6 744.4,108.4 745,107.9 745.5,107.9 746.1,107.4 746.6,107.7 747.2,107.4 747.7,107.5 748.3,107.7 748.8,107.3 749.4,107.2 749.9,107.8 750.5,107.5 751,108.1 751.6,108.2 752.1,107.0 752.7,108.2 753.2,107.3 753.8,108.2 754.3,107.5 754.9,108.0 755.4,107.3 756,108.0 756.5,107.9 757.1,108.5 757.6,108.2 758.2,107.6 758.7,108.2 759.3,107.8 759.8,108.2 760.4,108.8 760.9,108.9 761.5,108.4 762,108.1 762.6,108.5 763.1,109.4 763.7,108.6 764.2,108.2 764.7,108.4 765.2,108.6 765.8,109.7 766.3,109.4 766.8,109.5 767.2,110.2 767.7,110.7 768.1,110.7 768.6,110.9 768.9,111.6 769.2,111.9 769.4,112.4 769.5,113.0 769.6,113.6"/><polyline stroke-width="1.20" points="631.5,139.4 632.1,139.3 632.7,138.0 633.2,137.6 633.8,137.1 634.4,136.6 635,135.8 635.7,135.5 636.3,135.1 636.9,134.2 637.6,133.7 638.2,133.9 638.9,133.2 639.6,132.7 640.2,132.3 640.9,131.7 641.6,131.0 642.2,130.8 642.9,130.9 643.6,130.2 644.3,129.4 645,130.1 645.7,128.7 646.4,128.4 647.1,128.4 647.8,128.0 648.5,128.3 649.3,127.3 650,127.0 650.7,126.0 651.4,126.1 652.2,125.6 652.9,125.4 653.6,125.1 654.4,124.8 655.1,125.1 655.8,124.6 656.6,124.0 657.3,123.4 658.1,122.3 658.8,123.4 659.6,122.3 660.3,122.3 661.1,121.5 661.9,122.2 662.6,121.7 663.4,121.1 664.1,121.1 664.9,120.9 665.7,120.5 666.4,120.2 667.2,120.0 668,120.1 668.7,118.9 669.5,119.1 670.3,119.2 671,119.0 671.8,118.1 672.6,118.4 673.3,117.8 674.1,117.9 674.8,118.5 675.6,117.2 676.4,116.4 677.1,117.0 677.9,116.7 678.7,116.2 679.4,116.4 680.2,115.6 681,115.6 681.8,116.4 682.6,115.5 683.3,115.6 684.1,115.4 684.9,115.3 685.7,114.1 686.5,114.1 687.3,114.3 688,114.0 688.8,114.1 689.6,113.9 690.4,113.5 691.2,113.0 692,113.4 692.8,113.4 693.6,113.2 694.4,112.4 695.2,112.6 695.9,113.1 696.7,112.1 697.5,112.4 698.3,112.7 699.1,112.2 699.9,111.8 700.7,112.2 701.5,111.8 702.3,111.7 703.1,111.6 703.9,112.1 704.7,110.7 705.5,111.9 706.3,111.5 707.1,111.3 707.9,111.1 708.7,111.1 709.5,111.9 710.3,111.1 711.1,110.6 711.9,111.0 712.7,110.8 713.5,110.5 714.3,110.4 715.1,110.6 715.9,110.1 716.7,110.1 717.5,109.3 718.3,109.9 719.1,109.9 719.9,108.8 720.7,110.2 721.5,109.6 722.3,109.2 723.1,109.2 723.9,108.9 724.7,109.8 725.5,109.9 726.3,109.2 727.1,108.6 727.9,108.9 728.7,108.9 729.5,109.0 730.3,108.9 731.1,109.1 731.9,108.3 732.7,108.6 733.5,108.6 734.3,108.3 735.1,108.4 735.9,108.6 736.7,108.3 737.5,108.4 738.3,108.4 739.1,108.1 739.9,108.0 740.7,108.4 741.5,107.8 742.3,107.6 743.1,107.9 743.9,107.9 744.7,107.2 745.5,107.8 746.3,107.9 747.1,107.9 747.9,107.4 748.7,107.5 749.5,107.8 750.3,107.2 751.1,107.8 751.9,107.3 752.7,106.8 753.5,108.2 754.3,107.5 755.1,108.0 755.9,108.1 756.7,107.5 757.5,108.4 758.3,108.0 759.1,107.6 759.9,107.9 760.7,108.3 761.5,108.1 762.3,108.4 763.1,108.4 763.9,108.2 764.7,109.3 765.4,109.2 766.2,109.9 766.9,110.0 767.6,110.1 768.2,110.9"/></g>
<g stroke="#161616" stroke-width="1.42" fill="none" stroke-linecap="butt">
<path d="M69.90 11.20H491.15V322.70"/>
<path d="M76.40 11.20V322.70"/>
<path d="M69.90 315.90H491.15"/>
<path d="M102.32 315.90v4.20M128.24 315.90v6.80M154.17 315.90v4.20M180.09 315.90v6.80M206.01 315.90v4.20M231.93 315.90v6.80M257.85 315.90v4.20M283.77 315.90v6.80M309.70 315.90v4.20M335.62 315.90v6.80M361.54 315.90v4.20M387.46 315.90v6.80M413.38 315.90v4.20M439.31 315.90v6.80M465.23 315.90v4.20M76.40 300.66h-3.60M76.40 285.43h-6.50M76.40 270.19h-3.60M76.40 254.96h-6.50M76.40 239.72h-3.60M76.40 224.49h-6.50M76.40 209.25h-3.60M76.40 194.02h-6.50M76.40 178.78h-3.60M76.40 163.55h-6.50M76.40 148.31h-3.60M76.40 133.08h-6.50M76.40 117.84h-3.60M76.40 102.61h-6.50M76.40 87.38h-3.60M76.40 72.14h-6.50M76.40 56.91h-3.60M76.40 41.67h-6.50M76.40 26.44h-3.60"/>
</g>
<text class="tk" x="76.2" y="335.9" text-anchor="middle">0</text>
<text class="tk" x="128.1" y="335.9" text-anchor="middle">2</text>
<text class="tk" x="179.9" y="335.9" text-anchor="middle">4</text>
<text class="tk" x="231.8" y="335.9" text-anchor="middle">6</text>
<text class="tk" x="283.6" y="335.9" text-anchor="middle">8</text>
<text class="tk" x="335.5" y="335.9" text-anchor="middle">10</text>
<text class="tk" x="387.3" y="335.9" text-anchor="middle">12</text>
<text class="tk" x="439.2" y="335.9" text-anchor="middle">14</text>
<text class="tk" x="491.0" y="335.9" text-anchor="middle">16</text>
<text class="tk" x="66.7" y="319.3" text-anchor="end">0</text>
<text class="tk" x="66.7" y="288.5" text-anchor="end">20</text>
<text class="tk" x="66.7" y="258.4" text-anchor="end">40</text>
<text class="tk" x="66.7" y="227.9" text-anchor="end">60</text>
<text class="tk" x="66.7" y="197.4" text-anchor="end">80</text>
<text class="tk" x="66.7" y="166.9" text-anchor="end">100</text>
<text class="tk" x="66.7" y="135.6" text-anchor="end">120</text>
<text class="tk" x="66.7" y="105.7" text-anchor="end">140</text>
<text class="tk" x="66.7" y="74.6" text-anchor="end">160</text>
<text class="tk" x="66.7" y="44.6" text-anchor="end">180</text>
<text class="tk" x="66.7" y="13.9" text-anchor="end">200</text>
<g stroke="#161616" stroke-width="1.42" fill="none" stroke-linecap="butt">
<path d="M595.25 13.00H1014.50V322.85"/>
<path d="M601.75 13.00V322.85"/>
<path d="M595.25 316.05H1014.50"/>
<path d="M627.55 316.05v4.20M653.34 316.05v6.80M679.14 316.05v4.20M704.94 316.05v6.80M730.73 316.05v4.20M756.53 316.05v6.80M782.33 316.05v4.20M808.12 316.05v6.80M833.92 316.05v4.20M859.72 316.05v6.80M885.52 316.05v4.20M911.31 316.05v6.80M937.11 316.05v4.20M962.91 316.05v6.80M988.70 316.05v4.20M601.75 300.90h-3.60M601.75 285.75h-6.50M601.75 270.59h-3.60M601.75 255.44h-6.50M601.75 240.29h-3.60M601.75 225.14h-6.50M601.75 209.98h-3.60M601.75 194.83h-6.50M601.75 179.68h-3.60M601.75 164.53h-6.50M601.75 149.37h-3.60M601.75 134.22h-6.50M601.75 119.07h-3.60M601.75 103.92h-6.50M601.75 88.76h-3.60M601.75 73.61h-6.50M601.75 58.46h-3.60M601.75 43.31h-6.50M601.75 28.15h-3.60"/>
</g>
<text class="tk" x="601.6" y="336.1" text-anchor="middle">0</text>
<text class="tk" x="653.2" y="336.1" text-anchor="middle">2</text>
<text class="tk" x="704.8" y="336.1" text-anchor="middle">4</text>
<text class="tk" x="756.4" y="336.1" text-anchor="middle">6</text>
<text class="tk" x="808.0" y="336.1" text-anchor="middle">8</text>
<text class="tk" x="859.6" y="336.1" text-anchor="middle">10</text>
<text class="tk" x="911.2" y="336.1" text-anchor="middle">12</text>
<text class="tk" x="962.8" y="336.1" text-anchor="middle">14</text>
<text class="tk" x="1014.4" y="336.1" text-anchor="middle">16</text>
<text class="tk" x="591.6" y="319.4" text-anchor="end">0</text>
<text class="tk" x="591.6" y="289.1" text-anchor="end">20</text>
<text class="tk" x="591.6" y="258.8" text-anchor="end">40</text>
<text class="tk" x="591.6" y="228.2" text-anchor="end">60</text>
<text class="tk" x="591.6" y="198.2" text-anchor="end">80</text>
<text class="tk" x="591.6" y="167.9" text-anchor="end">100</text>
<text class="tk" x="591.6" y="138.1" text-anchor="end">120</text>
<text class="tk" x="591.6" y="107.3" text-anchor="end">140</text>
<text class="tk" x="591.6" y="76.6" text-anchor="end">160</text>
<text class="tk" x="591.6" y="46.7" text-anchor="end">180</text>
<text class="tk" x="591.6" y="15.7" text-anchor="end">200</text>
<text class="lb" x="230.4" y="43.6">Mg 2.5 TiO<tspan class="sub" dx="0.2" dy="5.0">2</tspan></text>
<text class="lb" x="332.3" y="64.9">Mg 1.98 TiO<tspan class="sub" dx="0.2" dy="5.0">2</tspan></text>
<text class="lb" x="237.0" y="97.1">Pure Mg</text>
<text class="lb" x="654.0" y="101.3">Mg 2.5 TiO<tspan class="sub" dx="0.2" dy="5.0">2</tspan></text>
<text class="lb" x="804.0" y="88.7">Pure Mg</text>
<text class="lb" x="886.5" y="107.3">Mg 1.98 TiO<tspan class="sub" dx="0.2" dy="5.0">2</tspan></text>
<text class="ax" x="281.8" y="352.5" text-anchor="middle">Strain</text>
<text class="ax" x="281.8" y="371.6" text-anchor="middle">[%]</text>
<text class="ax" x="806.0" y="352.7" text-anchor="middle">Strain</text>
<text class="ax" x="805.9" y="371.4" text-anchor="middle">[%]</text>
<text class="ax" transform="translate(15.9,150) rotate(-90)" text-anchor="middle">Stress</text>
<text class="ax" transform="translate(35.5,150.2) rotate(-90)" text-anchor="middle">[MPa]</text>
<text class="ax" transform="translate(541.0,151.1) rotate(-90)" text-anchor="middle">Stress</text>
<text class="ax" transform="translate(561.0,151.1) rotate(-90)" text-anchor="middle">[MPa]</text>
<text class="cap" x="252.4" y="410" text-anchor="middle">(<tspan font-weight="bold">a</tspan>)</text>
<text class="cap" x="760.9" y="410">(<tspan font-weight="bold" dx="1.6">b</tspan><tspan dx="-1.2">)</tspan></text>
</svg></body></html>
